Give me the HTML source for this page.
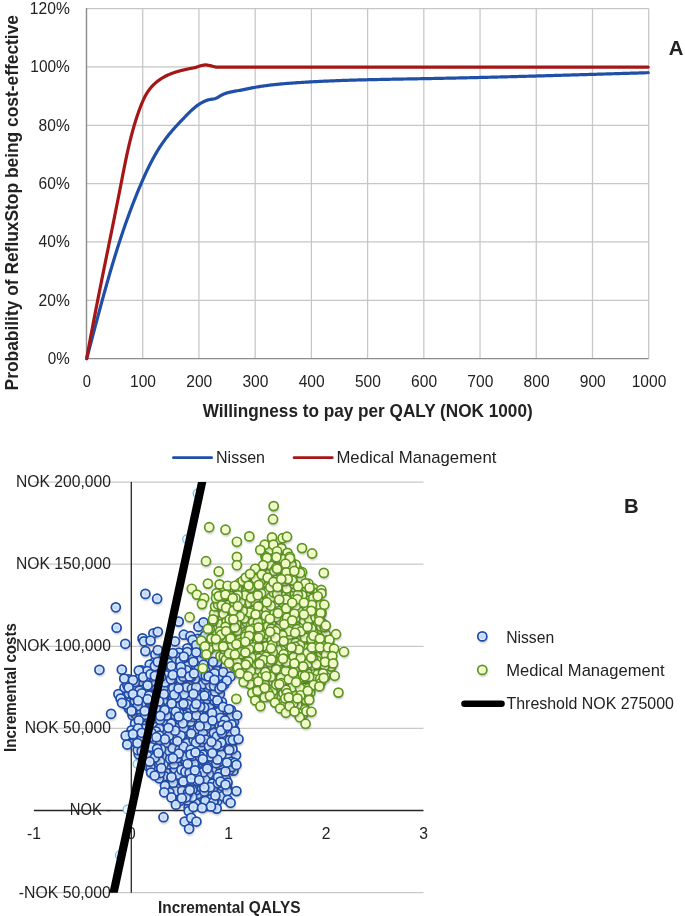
<!DOCTYPE html>
<html><head><meta charset="utf-8"><style>
html,body{margin:0;padding:0;background:#fff;}
svg{display:block;will-change:transform;}
text{font-family:"Liberation Sans", sans-serif;}
</style></head><body>
<svg width="685" height="916" viewBox="0 0 685 916">
<rect width="685" height="916" fill="#fff"/>
<g stroke="#c6c6c6" stroke-width="1.25"><line x1="86.50" y1="300.27" x2="648.70" y2="300.27"/><line x1="86.50" y1="241.93" x2="648.70" y2="241.93"/><line x1="86.50" y1="183.60" x2="648.70" y2="183.60"/><line x1="86.50" y1="125.26" x2="648.70" y2="125.26"/><line x1="86.50" y1="66.93" x2="648.70" y2="66.93"/><line x1="86.50" y1="8.60" x2="648.70" y2="8.60"/><line x1="142.72" y1="358.60" x2="142.72" y2="8.60"/><line x1="198.94" y1="358.60" x2="198.94" y2="8.60"/><line x1="255.16" y1="358.60" x2="255.16" y2="8.60"/><line x1="311.38" y1="358.60" x2="311.38" y2="8.60"/><line x1="367.60" y1="358.60" x2="367.60" y2="8.60"/><line x1="423.82" y1="358.60" x2="423.82" y2="8.60"/><line x1="480.04" y1="358.60" x2="480.04" y2="8.60"/><line x1="536.26" y1="358.60" x2="536.26" y2="8.60"/><line x1="592.48" y1="358.60" x2="592.48" y2="8.60"/><line x1="648.70" y1="358.60" x2="648.70" y2="8.60"/></g>
<g stroke="#8c8c8c" stroke-width="1.4"><line x1="86.50" y1="358.60" x2="86.50" y2="8.10"/><line x1="85.90" y1="358.60" x2="648.70" y2="358.60"/></g>
<path d="M86.70,358.60 L87.02,357.41 L87.33,356.23 L87.65,355.04 L87.96,353.86 L88.28,352.67 L88.59,351.48 L88.91,350.30 L89.22,349.11 L89.54,347.92 L89.85,346.74 L90.17,345.55 L90.48,344.36 L90.79,343.17 L91.11,341.99 L91.42,340.80 L91.73,339.61 L92.05,338.42 L92.36,337.24 L92.68,336.05 L92.99,334.86 L93.30,333.67 L93.62,332.49 L93.93,331.30 L94.25,330.11 L94.56,328.92 L94.87,327.73 L95.19,326.55 L95.50,325.36 L95.82,324.17 L96.13,322.98 L96.45,321.80 L96.77,320.61 L97.08,319.42 L97.40,318.23 L97.72,317.05 L98.03,315.86 L98.35,314.67 L98.67,313.49 L98.99,312.30 L99.30,311.11 L99.62,309.93 L99.94,308.74 L100.26,307.55 L100.58,306.37 L100.91,305.18 L101.23,303.99 L101.55,302.81 L101.87,301.62 L102.20,300.44 L102.52,299.25 L102.85,298.07 L103.17,296.88 L103.50,295.70 L103.82,294.51 L104.15,293.33 L104.48,292.15 L104.81,290.96 L105.14,289.78 L105.47,288.60 L105.80,287.41 L106.13,286.23 L106.47,285.05 L106.80,283.86 L107.14,282.68 L107.47,281.50 L107.81,280.32 L108.15,279.14 L108.48,277.96 L108.82,276.78 L109.17,275.60 L109.51,274.42 L109.85,273.24 L110.19,272.06 L110.54,270.88 L110.89,269.70 L111.23,268.52 L111.58,267.35 L111.93,266.17 L112.28,264.99 L112.63,263.82 L112.99,262.64 L113.34,261.46 L113.70,260.29 L114.05,259.11 L114.41,257.94 L114.77,256.77 L115.13,255.59 L115.50,254.42 L115.86,253.25 L116.23,252.08 L116.59,250.90 L116.96,249.73 L117.33,248.56 L117.70,247.39 L118.07,246.22 L118.45,245.05 L118.82,243.88 L119.20,242.72 L119.58,241.55 L119.96,240.38 L120.34,239.22 L120.73,238.05 L121.11,236.88 L121.50,235.72 L121.89,234.56 L122.28,233.39 L122.67,232.23 L123.06,231.07 L123.46,229.90 L123.86,228.74 L124.26,227.58 L124.66,226.42 L125.06,225.26 L125.46,224.10 L125.87,222.95 L126.28,221.79 L126.69,220.63 L127.10,219.48 L127.52,218.32 L127.93,217.17 L128.35,216.01 L128.77,214.86 L129.20,213.71 L129.62,212.55 L130.05,211.40 L130.48,210.25 L130.91,209.10 L131.34,207.95 L131.78,206.81 L132.21,205.66 L132.65,204.51 L133.10,203.37 L133.54,202.22 L133.99,201.08 L134.44,199.93 L134.89,198.79 L135.34,197.65 L135.80,196.51 L136.25,195.37 L136.71,194.23 L137.18,193.09 L137.64,191.95 L138.11,190.81 L138.58,189.68 L139.05,188.54 L139.53,187.41 L140.01,186.27 L140.49,185.14 L140.97,184.01 L141.45,182.88 L141.94,181.75 L142.43,180.62 L142.93,179.49 L143.42,178.37 L143.92,177.24 L144.43,176.12 L144.94,175.00 L145.45,173.88 L145.96,172.76 L146.48,171.65 L147.01,170.53 L147.54,169.42 L148.07,168.31 L148.61,167.21 L149.15,166.11 L149.70,165.01 L150.25,163.91 L150.81,162.82 L151.37,161.73 L151.94,160.64 L152.52,159.56 L153.10,158.48 L153.69,157.41 L154.29,156.34 L154.89,155.27 L155.50,154.21 L156.11,153.15 L156.73,152.10 L157.36,151.05 L158.00,150.00 L158.64,148.96 L159.29,147.93 L159.95,146.90 L160.62,145.88 L161.30,144.86 L161.98,143.85 L162.68,142.84 L163.38,141.84 L164.09,140.84 L164.81,139.85 L165.54,138.87 L166.27,137.90 L167.02,136.93 L167.78,135.96 L168.54,135.00 L169.32,134.05 L170.10,133.11 L170.89,132.16 L171.68,131.23 L172.49,130.30 L173.30,129.37 L174.11,128.45 L174.93,127.53 L175.76,126.62 L176.59,125.70 L177.43,124.80 L178.27,123.89 L179.12,122.99 L179.97,122.09 L180.82,121.19 L181.68,120.30 L182.53,119.41 L183.39,118.52 L184.26,117.63 L185.12,116.74 L185.98,115.85 L186.85,114.97 L187.72,114.08 L188.59,113.21 L189.47,112.34 L190.35,111.48 L191.24,110.63 L192.14,109.79 L193.06,108.97 L193.98,108.17 L194.91,107.38 L195.86,106.62 L196.83,105.87 L197.81,105.16 L198.81,104.46 L199.82,103.80 L200.86,103.16 L201.92,102.56 L203.00,101.99 L204.10,101.46 L205.22,100.97 L206.36,100.52 L207.51,100.13 L208.69,99.79 L209.88,99.52 L211.08,99.30 L212.29,99.14 L213.50,98.97 L214.69,98.74 L215.83,98.36 L216.93,97.85 L218.00,97.25 L219.06,96.59 L220.11,95.93 L221.18,95.31 L222.27,94.75 L223.38,94.24 L224.50,93.78 L225.64,93.37 L226.79,92.99 L227.95,92.65 L229.13,92.34 L230.31,92.06 L231.50,91.81 L232.70,91.57 L233.91,91.35 L235.11,91.14 L236.33,90.94 L237.54,90.74 L238.76,90.54 L239.97,90.34 L241.18,90.13 L242.39,89.90 L243.59,89.66 L244.79,89.42 L245.99,89.16 L247.19,88.91 L248.39,88.65 L249.59,88.40 L250.79,88.15 L251.99,87.91 L253.19,87.68 L254.40,87.46 L255.60,87.24 L256.81,87.03 L258.02,86.82 L259.23,86.62 L260.44,86.43 L261.65,86.24 L262.86,86.06 L264.07,85.89 L265.29,85.72 L266.50,85.55 L267.72,85.40 L268.93,85.24 L270.15,85.09 L271.37,84.95 L272.59,84.81 L273.81,84.68 L275.03,84.55 L276.25,84.42 L277.47,84.30 L278.70,84.18 L279.92,84.06 L281.14,83.95 L282.37,83.84 L283.59,83.73 L284.81,83.63 L286.04,83.53 L287.26,83.43 L288.49,83.34 L289.72,83.24 L290.94,83.15 L292.17,83.06 L293.39,82.98 L294.62,82.89 L295.85,82.80 L297.07,82.72 L298.30,82.64 L299.52,82.56 L300.75,82.48 L301.98,82.40 L303.20,82.32 L304.43,82.25 L305.66,82.17 L306.88,82.10 L308.11,82.03 L309.34,81.96 L310.56,81.89 L311.79,81.82 L313.02,81.75 L314.24,81.69 L315.47,81.62 L316.70,81.56 L317.92,81.50 L319.15,81.44 L320.38,81.38 L321.60,81.32 L322.83,81.26 L324.06,81.20 L325.28,81.15 L326.51,81.09 L327.74,81.04 L328.97,80.98 L330.19,80.93 L331.42,80.88 L332.65,80.83 L333.87,80.78 L335.10,80.73 L336.33,80.69 L337.56,80.64 L338.78,80.59 L340.01,80.55 L341.24,80.51 L342.47,80.46 L343.69,80.42 L344.92,80.38 L346.15,80.34 L347.38,80.30 L348.60,80.26 L349.83,80.22 L351.06,80.18 L352.29,80.14 L353.51,80.11 L354.74,80.07 L355.97,80.04 L357.20,80.00 L358.42,79.97 L359.65,79.94 L360.88,79.90 L362.11,79.87 L363.34,79.84 L364.56,79.81 L365.79,79.78 L367.02,79.75 L368.25,79.72 L369.47,79.69 L370.70,79.66 L371.93,79.63 L373.16,79.61 L374.39,79.58 L375.61,79.55 L376.84,79.53 L378.07,79.50 L379.30,79.48 L380.52,79.45 L381.75,79.43 L382.98,79.40 L384.21,79.38 L385.44,79.35 L386.66,79.33 L387.89,79.31 L389.12,79.28 L390.35,79.26 L391.58,79.24 L392.80,79.21 L394.03,79.19 L395.26,79.17 L396.49,79.15 L397.72,79.13 L398.95,79.11 L400.17,79.08 L401.40,79.06 L402.63,79.04 L403.86,79.02 L405.09,79.00 L406.31,78.98 L407.54,78.96 L408.77,78.94 L410.00,78.91 L411.23,78.89 L412.45,78.87 L413.68,78.85 L414.91,78.83 L416.14,78.81 L417.37,78.79 L418.59,78.76 L419.82,78.74 L421.05,78.72 L422.28,78.70 L423.51,78.68 L424.73,78.65 L425.96,78.63 L427.19,78.61 L428.42,78.59 L429.65,78.56 L430.88,78.54 L432.10,78.52 L433.33,78.49 L434.56,78.47 L435.79,78.44 L437.02,78.42 L438.24,78.40 L439.47,78.37 L440.70,78.35 L441.93,78.32 L443.16,78.30 L444.38,78.27 L445.61,78.25 L446.84,78.22 L448.07,78.20 L449.30,78.17 L450.52,78.14 L451.75,78.12 L452.98,78.09 L454.21,78.06 L455.44,78.04 L456.66,78.01 L457.89,77.98 L459.12,77.96 L460.35,77.93 L461.58,77.90 L462.80,77.87 L464.03,77.85 L465.26,77.82 L466.49,77.79 L467.72,77.76 L468.94,77.73 L470.17,77.71 L471.40,77.68 L472.63,77.65 L473.85,77.62 L475.08,77.59 L476.31,77.56 L477.54,77.53 L478.77,77.50 L479.99,77.47 L481.22,77.44 L482.45,77.41 L483.68,77.38 L484.91,77.35 L486.13,77.32 L487.36,77.29 L488.59,77.26 L489.82,77.23 L491.05,77.20 L492.27,77.17 L493.50,77.14 L494.73,77.11 L495.96,77.08 L497.19,77.05 L498.41,77.01 L499.64,76.98 L500.87,76.95 L502.10,76.92 L503.32,76.89 L504.55,76.86 L505.78,76.82 L507.01,76.79 L508.24,76.76 L509.46,76.73 L510.69,76.69 L511.92,76.66 L513.15,76.63 L514.38,76.60 L515.60,76.56 L516.83,76.53 L518.06,76.50 L519.29,76.46 L520.51,76.43 L521.74,76.40 L522.97,76.36 L524.20,76.33 L525.43,76.30 L526.65,76.26 L527.88,76.23 L529.11,76.20 L530.34,76.16 L531.57,76.13 L532.79,76.09 L534.02,76.06 L535.25,76.03 L536.48,75.99 L537.70,75.96 L538.93,75.92 L540.16,75.89 L541.39,75.85 L542.62,75.82 L543.84,75.78 L545.07,75.75 L546.30,75.71 L547.53,75.68 L548.75,75.64 L549.98,75.61 L551.21,75.57 L552.44,75.54 L553.67,75.50 L554.89,75.47 L556.12,75.43 L557.35,75.40 L558.58,75.36 L559.80,75.33 L561.03,75.29 L562.26,75.25 L563.49,75.22 L564.72,75.18 L565.94,75.15 L567.17,75.11 L568.40,75.08 L569.63,75.04 L570.85,75.00 L572.08,74.97 L573.31,74.93 L574.54,74.90 L575.77,74.86 L576.99,74.82 L578.22,74.79 L579.45,74.75 L580.68,74.71 L581.90,74.68 L583.13,74.64 L584.36,74.60 L585.59,74.57 L586.82,74.53 L588.04,74.50 L589.27,74.46 L590.50,74.42 L591.73,74.39 L592.95,74.35 L594.18,74.31 L595.41,74.28 L596.64,74.24 L597.86,74.20 L599.09,74.17 L600.32,74.13 L601.55,74.09 L602.78,74.06 L604.00,74.02 L605.23,73.98 L606.46,73.95 L607.69,73.91 L608.91,73.87 L610.14,73.84 L611.37,73.80 L612.60,73.76 L613.83,73.73 L615.05,73.69 L616.28,73.65 L617.51,73.61 L618.74,73.58 L619.96,73.54 L621.19,73.50 L622.42,73.47 L623.65,73.43 L624.87,73.39 L626.10,73.36 L627.33,73.32 L628.56,73.28 L629.78,73.25 L631.01,73.21 L632.24,73.17 L633.47,73.14 L634.70,73.10 L635.92,73.06 L637.15,73.03 L638.38,72.99 L639.61,72.95 L640.83,72.92 L642.06,72.88 L643.29,72.85 L644.52,72.81 L645.74,72.77 L646.97,72.74 L648.20,72.70" fill="none" stroke="#1f4fa6" stroke-width="3.2" stroke-linejoin="round" stroke-linecap="round"/>
<path d="M86.70,358.60 L86.80,358.06 L86.89,357.51 L86.99,356.97 L87.09,356.43 L87.18,355.89 L87.28,355.34 L87.38,354.80 L87.48,354.26 L87.57,353.72 L87.67,353.17 L87.77,352.63 L87.87,352.09 L87.97,351.55 L88.06,351.01 L88.16,350.46 L88.26,349.92 L88.36,349.38 L88.46,348.84 L88.56,348.29 L88.65,347.75 L88.75,347.21 L88.85,346.67 L88.95,346.13 L89.05,345.58 L89.15,345.04 L89.25,344.50 L89.35,343.96 L89.45,343.42 L89.55,342.88 L89.65,342.33 L89.75,341.79 L89.85,341.25 L89.95,340.71 L90.05,340.17 L90.15,339.62 L90.25,339.08 L90.35,338.54 L90.45,338.00 L90.55,337.46 L90.66,336.92 L90.76,336.38 L90.86,335.83 L90.96,335.29 L91.06,334.75 L91.16,334.21 L91.26,333.67 L91.36,333.13 L91.47,332.59 L91.57,332.04 L91.67,331.50 L91.77,330.96 L91.87,330.42 L91.98,329.88 L92.08,329.34 L92.18,328.80 L92.28,328.26 L92.39,327.71 L92.49,327.17 L92.59,326.63 L92.70,326.09 L92.80,325.55 L92.90,325.01 L93.00,324.47 L93.11,323.93 L93.21,323.39 L93.31,322.85 L93.42,322.30 L93.52,321.76 L93.63,321.22 L93.73,320.68 L93.83,320.14 L93.94,319.60 L94.04,319.06 L94.15,318.52 L94.25,317.98 L94.35,317.44 L94.46,316.90 L94.56,316.36 L94.67,315.82 L94.77,315.27 L94.88,314.73 L94.98,314.19 L95.09,313.65 L95.19,313.11 L95.30,312.57 L95.40,312.03 L95.51,311.49 L95.61,310.95 L95.72,310.41 L95.82,309.87 L95.93,309.33 L96.03,308.79 L96.14,308.25 L96.24,307.71 L96.35,307.17 L96.45,306.63 L96.56,306.09 L96.67,305.55 L96.77,305.01 L96.88,304.47 L96.98,303.93 L97.09,303.39 L97.20,302.84 L97.30,302.30 L97.41,301.76 L97.51,301.22 L97.62,300.68 L97.73,300.14 L97.83,299.60 L97.94,299.06 L98.05,298.52 L98.15,297.98 L98.26,297.44 L98.37,296.90 L98.47,296.36 L98.58,295.82 L98.69,295.28 L98.80,294.74 L98.90,294.20 L99.01,293.66 L99.12,293.12 L99.22,292.58 L99.33,292.04 L99.44,291.50 L99.55,290.96 L99.65,290.42 L99.76,289.88 L99.87,289.34 L99.98,288.80 L100.08,288.26 L100.19,287.72 L100.30,287.18 L100.41,286.64 L100.51,286.10 L100.62,285.56 L100.73,285.03 L100.84,284.49 L100.95,283.95 L101.05,283.41 L101.16,282.87 L101.27,282.33 L101.38,281.79 L101.49,281.25 L101.60,280.71 L101.70,280.17 L101.81,279.63 L101.92,279.09 L102.03,278.55 L102.14,278.01 L102.25,277.47 L102.35,276.93 L102.46,276.39 L102.57,275.85 L102.68,275.31 L102.79,274.77 L102.90,274.23 L103.01,273.69 L103.11,273.15 L103.22,272.61 L103.33,272.07 L103.44,271.53 L103.55,270.99 L103.66,270.45 L103.77,269.91 L103.88,269.37 L103.98,268.84 L104.09,268.30 L104.20,267.76 L104.31,267.22 L104.42,266.68 L104.53,266.14 L104.64,265.60 L104.75,265.06 L104.86,264.52 L104.97,263.98 L105.08,263.44 L105.18,262.90 L105.29,262.36 L105.40,261.82 L105.51,261.28 L105.62,260.74 L105.73,260.20 L105.84,259.66 L105.95,259.12 L106.06,258.58 L106.17,258.05 L106.28,257.51 L106.39,256.97 L106.50,256.43 L106.60,255.89 L106.71,255.35 L106.82,254.81 L106.93,254.27 L107.04,253.73 L107.15,253.19 L107.26,252.65 L107.37,252.11 L107.48,251.57 L107.59,251.03 L107.70,250.49 L107.81,249.95 L107.92,249.41 L108.03,248.87 L108.14,248.33 L108.25,247.80 L108.36,247.26 L108.46,246.72 L108.57,246.18 L108.68,245.64 L108.79,245.10 L108.90,244.56 L109.01,244.02 L109.12,243.48 L109.23,242.94 L109.34,242.40 L109.45,241.86 L109.56,241.32 L109.67,240.78 L109.78,240.24 L109.89,239.70 L110.00,239.16 L110.11,238.62 L110.22,238.09 L110.32,237.55 L110.43,237.01 L110.54,236.47 L110.65,235.93 L110.76,235.39 L110.87,234.85 L110.98,234.31 L111.09,233.77 L111.20,233.23 L111.31,232.69 L111.42,232.15 L111.53,231.61 L111.64,231.07 L111.75,230.53 L111.85,229.99 L111.96,229.45 L112.07,228.91 L112.18,228.37 L112.29,227.83 L112.40,227.29 L112.51,226.75 L112.62,226.22 L112.73,225.68 L112.84,225.14 L112.94,224.60 L113.05,224.06 L113.16,223.52 L113.27,222.98 L113.38,222.44 L113.49,221.90 L113.60,221.36 L113.71,220.82 L113.82,220.28 L113.92,219.74 L114.03,219.20 L114.14,218.66 L114.25,218.12 L114.36,217.58 L114.47,217.04 L114.58,216.50 L114.68,215.96 L114.79,215.42 L114.90,214.88 L115.01,214.34 L115.12,213.80 L115.23,213.26 L115.33,212.72 L115.44,212.18 L115.55,211.64 L115.66,211.10 L115.77,210.56 L115.87,210.02 L115.98,209.48 L116.09,208.94 L116.20,208.40 L116.31,207.86 L116.41,207.32 L116.52,206.78 L116.63,206.24 L116.74,205.70 L116.85,205.16 L116.95,204.62 L117.06,204.08 L117.17,203.54 L117.28,203.00 L117.38,202.46 L117.49,201.92 L117.60,201.38 L117.71,200.84 L117.81,200.30 L117.92,199.76 L118.03,199.22 L118.13,198.68 L118.24,198.14 L118.35,197.60 L118.45,197.06 L118.56,196.52 L118.67,195.98 L118.78,195.44 L118.88,194.90 L118.99,194.36 L119.10,193.82 L119.20,193.28 L119.31,192.74 L119.41,192.20 L119.52,191.66 L119.63,191.12 L119.73,190.58 L119.84,190.04 L119.95,189.50 L120.05,188.96 L120.16,188.42 L120.26,187.88 L120.37,187.34 L120.48,186.80 L120.58,186.25 L120.69,185.71 L120.79,185.17 L120.90,184.63 L121.00,184.09 L121.11,183.55 L121.21,183.01 L121.32,182.47 L121.42,181.93 L121.53,181.39 L121.63,180.85 L121.74,180.31 L121.84,179.77 L121.95,179.23 L122.05,178.69 L122.16,178.14 L122.27,177.60 L122.37,177.06 L122.48,176.52 L122.58,175.98 L122.69,175.44 L122.79,174.90 L122.90,174.36 L123.00,173.82 L123.11,173.28 L123.22,172.74 L123.32,172.20 L123.43,171.66 L123.53,171.12 L123.64,170.58 L123.75,170.04 L123.85,169.50 L123.96,168.96 L124.07,168.42 L124.18,167.87 L124.28,167.33 L124.39,166.79 L124.50,166.25 L124.61,165.71 L124.72,165.17 L124.83,164.63 L124.94,164.10 L125.05,163.56 L125.15,163.02 L125.27,162.48 L125.38,161.94 L125.49,161.40 L125.60,160.86 L125.71,160.32 L125.82,159.78 L125.93,159.24 L126.05,158.70 L126.16,158.16 L126.27,157.62 L126.39,157.08 L126.50,156.55 L126.62,156.01 L126.73,155.47 L126.85,154.93 L126.96,154.39 L127.08,153.85 L127.20,153.32 L127.31,152.78 L127.43,152.24 L127.55,151.70 L127.67,151.17 L127.79,150.63 L127.91,150.09 L128.03,149.55 L128.15,149.02 L128.27,148.48 L128.39,147.94 L128.52,147.41 L128.64,146.87 L128.76,146.33 L128.89,145.80 L129.01,145.26 L129.14,144.72 L129.27,144.19 L129.39,143.65 L129.52,143.12 L129.65,142.58 L129.78,142.05 L129.91,141.51 L130.04,140.98 L130.17,140.44 L130.30,139.91 L130.44,139.37 L130.57,138.84 L130.71,138.31 L130.84,137.77 L130.98,137.24 L131.11,136.71 L131.25,136.17 L131.39,135.64 L131.53,135.11 L131.67,134.57 L131.81,134.04 L131.95,133.51 L132.09,132.98 L132.24,132.44 L132.38,131.91 L132.53,131.38 L132.67,130.85 L132.82,130.32 L132.97,129.79 L133.12,129.26 L133.26,128.73 L133.42,128.20 L133.57,127.67 L133.72,127.14 L133.87,126.61 L134.03,126.08 L134.18,125.55 L134.34,125.02 L134.50,124.49 L134.66,123.96 L134.82,123.44 L134.98,122.91 L135.14,122.38 L135.30,121.85 L135.46,121.33 L135.63,120.80 L135.79,120.27 L135.96,119.75 L136.13,119.22 L136.30,118.70 L136.47,118.17 L136.64,117.64 L136.81,117.12 L136.99,116.59 L137.16,116.07 L137.34,115.55 L137.52,115.02 L137.69,114.50 L137.87,113.98 L138.06,113.45 L138.24,112.93 L138.42,112.41 L138.61,111.89 L138.79,111.36 L138.98,110.84 L139.17,110.32 L139.36,109.80 L139.55,109.28 L139.74,108.76 L139.94,108.24 L140.13,107.72 L140.33,107.20 L140.52,106.68 L140.72,106.16 L140.93,105.65 L141.13,105.13 L141.33,104.61 L141.54,104.10 L141.75,103.59 L141.96,103.07 L142.18,102.56 L142.40,102.05 L142.61,101.55 L142.84,101.04 L143.06,100.54 L143.29,100.03 L143.52,99.53 L143.76,99.04 L143.99,98.54 L144.23,98.05 L144.48,97.56 L144.73,97.07 L144.98,96.58 L145.23,96.10 L145.49,95.62 L145.75,95.14 L146.02,94.67 L146.29,94.19 L146.57,93.73 L146.85,93.26 L147.13,92.80 L147.42,92.34 L147.72,91.89 L148.01,91.44 L148.32,90.99 L148.63,90.55 L148.94,90.11 L149.26,89.68 L149.58,89.25 L149.91,88.82 L150.25,88.40 L150.59,87.98 L150.93,87.57 L151.28,87.16 L151.64,86.76 L152.00,86.36 L152.37,85.96 L152.74,85.57 L153.11,85.19 L153.49,84.81 L153.88,84.43 L154.27,84.06 L154.66,83.69 L155.06,83.33 L155.47,82.97 L155.87,82.61 L156.29,82.26 L156.70,81.92 L157.13,81.58 L157.55,81.24 L157.98,80.91 L158.42,80.59 L158.86,80.27 L159.30,79.95 L159.75,79.64 L160.20,79.33 L160.65,79.03 L161.11,78.73 L161.57,78.44 L162.04,78.15 L162.51,77.87 L162.99,77.59 L163.46,77.31 L163.95,77.04 L164.43,76.78 L164.92,76.52 L165.41,76.27 L165.91,76.02 L166.41,75.77 L166.91,75.53 L167.41,75.30 L167.92,75.06 L168.43,74.84 L168.94,74.61 L169.46,74.39 L169.97,74.18 L170.49,73.97 L171.02,73.76 L171.54,73.56 L172.07,73.36 L172.59,73.16 L173.12,72.97 L173.66,72.78 L174.19,72.60 L174.72,72.42 L175.26,72.24 L175.80,72.07 L176.34,71.90 L176.88,71.73 L177.42,71.56 L177.96,71.40 L178.50,71.25 L179.05,71.09 L179.59,70.94 L180.13,70.79 L180.68,70.65 L181.22,70.50 L181.77,70.36 L182.31,70.23 L182.86,70.09 L183.41,69.96 L183.95,69.83 L184.50,69.70 L185.04,69.58 L185.59,69.46 L186.13,69.34 L186.67,69.22 L187.21,69.10 L187.76,68.99 L188.30,68.88 L188.83,68.77 L189.37,68.66 L189.91,68.56 L190.44,68.45 L190.98,68.35 L191.51,68.25 L192.04,68.15 L192.57,68.06 L193.10,67.96 L193.62,67.87 L194.15,67.77 L194.67,67.68 L195.18,67.59 L195.70,67.50 C196.67,67.17 199.80,65.93 201.50,65.50 C203.20,65.07 204.43,64.88 205.90,64.90 C207.37,64.92 208.60,65.24 210.30,65.60 C212.00,65.96 214.15,66.81 216.10,67.05 C218.05,67.29 219.68,67.05 222.00,67.05 C224.32,67.05 227.00,67.05 230.00,67.05 C233.00,67.05 238.33,67.05 240.00,67.05 L648.2,67.05" fill="none" stroke="#a51616" stroke-width="3.2" stroke-linejoin="round" stroke-linecap="round"/>
<text x="69.80" y="364.10" font-size="16.70" text-anchor="end" textLength="22.0" lengthAdjust="spacingAndGlyphs" fill="#222">0%</text>
<text x="69.80" y="305.77" font-size="16.70" text-anchor="end" textLength="31.2" lengthAdjust="spacingAndGlyphs" fill="#222">20%</text>
<text x="69.80" y="247.43" font-size="16.70" text-anchor="end" textLength="31.2" lengthAdjust="spacingAndGlyphs" fill="#222">40%</text>
<text x="69.80" y="189.10" font-size="16.70" text-anchor="end" textLength="31.2" lengthAdjust="spacingAndGlyphs" fill="#222">60%</text>
<text x="69.80" y="130.76" font-size="16.70" text-anchor="end" textLength="31.2" lengthAdjust="spacingAndGlyphs" fill="#222">80%</text>
<text x="69.80" y="72.43" font-size="16.70" text-anchor="end" textLength="39.5" lengthAdjust="spacingAndGlyphs" fill="#222">100%</text>
<text x="69.80" y="14.10" font-size="16.70" text-anchor="end" textLength="40.0" lengthAdjust="spacingAndGlyphs" fill="#222">120%</text>
<text x="86.80" y="387.40" font-size="16.70" text-anchor="middle" textLength="8.2" lengthAdjust="spacingAndGlyphs" fill="#222">0</text>
<text x="143.02" y="387.40" font-size="16.70" text-anchor="middle" textLength="26.0" lengthAdjust="spacingAndGlyphs" fill="#222">100</text>
<text x="199.24" y="387.40" font-size="16.70" text-anchor="middle" textLength="26.0" lengthAdjust="spacingAndGlyphs" fill="#222">200</text>
<text x="255.46" y="387.40" font-size="16.70" text-anchor="middle" textLength="26.0" lengthAdjust="spacingAndGlyphs" fill="#222">300</text>
<text x="311.68" y="387.40" font-size="16.70" text-anchor="middle" textLength="26.0" lengthAdjust="spacingAndGlyphs" fill="#222">400</text>
<text x="367.90" y="387.40" font-size="16.70" text-anchor="middle" textLength="26.0" lengthAdjust="spacingAndGlyphs" fill="#222">500</text>
<text x="424.12" y="387.40" font-size="16.70" text-anchor="middle" textLength="26.0" lengthAdjust="spacingAndGlyphs" fill="#222">600</text>
<text x="480.34" y="387.40" font-size="16.70" text-anchor="middle" textLength="26.0" lengthAdjust="spacingAndGlyphs" fill="#222">700</text>
<text x="536.56" y="387.40" font-size="16.70" text-anchor="middle" textLength="26.0" lengthAdjust="spacingAndGlyphs" fill="#222">800</text>
<text x="592.78" y="387.40" font-size="16.70" text-anchor="middle" textLength="26.0" lengthAdjust="spacingAndGlyphs" fill="#222">900</text>
<text x="649.00" y="387.40" font-size="16.70" text-anchor="middle" textLength="34.6" lengthAdjust="spacingAndGlyphs" fill="#222">1000</text>
<text x="202.70" y="416.80" font-size="17.80" font-weight="bold" textLength="330.0" lengthAdjust="spacingAndGlyphs" fill="#222">Willingness to pay per QALY (NOK 1000)</text>
<g transform="translate(18.3,390.4) rotate(-90)"><text x="0.00" y="0.00" font-size="18.60" font-weight="bold" textLength="375.4" lengthAdjust="spacingAndGlyphs" fill="#222">Probability of RefluxStop being cost-effective</text></g>
<text x="668.80" y="55.20" font-size="20.30" font-weight="bold" fill="#222">A</text>
<line x1="173.4" y1="457.7" x2="211.7" y2="457.7" stroke="#1f4fa6" stroke-width="2.7" stroke-linecap="round"/>
<line x1="294.1" y1="457.7" x2="332.3" y2="457.7" stroke="#a51616" stroke-width="2.7" stroke-linecap="round"/>
<text x="216.00" y="463.30" font-size="16.40" textLength="49.0" lengthAdjust="spacingAndGlyphs" fill="#222">Nissen</text>
<text x="336.40" y="463.30" font-size="16.40" textLength="160.0" lengthAdjust="spacingAndGlyphs" fill="#222">Medical Management</text>
<g stroke="#c8c8c8" stroke-width="1.25"><line x1="33.90" y1="482.00" x2="423.50" y2="482.00"/><line x1="33.90" y1="564.14" x2="423.50" y2="564.14"/><line x1="33.90" y1="646.28" x2="423.50" y2="646.28"/><line x1="33.90" y1="728.42" x2="423.50" y2="728.42"/><line x1="33.90" y1="892.70" x2="423.50" y2="892.70"/></g>
<line x1="131.30" y1="482.00" x2="131.30" y2="892.70" stroke="#262626" stroke-width="1.3"/>
<line x1="33.90" y1="810.56" x2="423.50" y2="810.56" stroke="#262626" stroke-width="1.5"/>
<defs>
<radialGradient id="gb" cx="50%" cy="50%" r="50%">
 <stop offset="0" stop-color="#c0d6fa"/><stop offset="0.5" stop-color="#cadefb"/><stop offset="0.8" stop-color="#e6f2ff"/><stop offset="1" stop-color="#f8fcff"/>
</radialGradient>
<radialGradient id="gg" cx="50%" cy="50%" r="50%">
 <stop offset="0" stop-color="#eefab8"/><stop offset="0.5" stop-color="#f2fcc6"/><stop offset="0.85" stop-color="#fbfee8"/><stop offset="1" stop-color="#fefff6"/>
</radialGradient>
<radialGradient id="sh" cx="50%" cy="50%" r="50%">
 <stop offset="0" stop-color="#4a4050" stop-opacity="0.42"/><stop offset="0.6" stop-color="#4a4050" stop-opacity="0.22"/><stop offset="1" stop-color="#3c3c5a" stop-opacity="0"/>
</radialGradient>
<symbol id="mb" overflow="visible"><circle cx="0.6" cy="2.2" r="6.2" fill="url(#sh)"/><circle r="4.5" fill="url(#gb)" stroke="#1e4cab" stroke-width="1.75"/></symbol>
<symbol id="mg" overflow="visible"><circle cx="0.6" cy="2.2" r="6.2" fill="url(#sh)"/><circle r="4.55" fill="url(#gg)" stroke="#5c961c" stroke-width="1.7"/></symbol>
</defs>
<circle cx="197.5" cy="493.5" r="4.3" fill="#f0fafe" stroke="#70c4ea" stroke-width="1.3"/>
<circle cx="187.0" cy="539.2" r="4.3" fill="#f0fafe" stroke="#70c4ea" stroke-width="1.3"/>
<circle cx="137.5" cy="764.0" r="4.3" fill="#f0fafe" stroke="#70c4ea" stroke-width="1.3"/>
<circle cx="127.5" cy="809.5" r="4.3" fill="#f0fafe" stroke="#70c4ea" stroke-width="1.3"/>
<circle cx="119.8" cy="855.2" r="4.3" fill="#f0fafe" stroke="#70c4ea" stroke-width="1.3"/>
<circle cx="178.7" cy="621.6" r="4.3" fill="#f0fafe" stroke="#70c4ea" stroke-width="1.3"/>
<use href="#mb" x="190.1" y="691.8"/>
<use href="#mb" x="153.1" y="724.3"/>
<use href="#mb" x="155.3" y="654.5"/>
<use href="#mb" x="194.4" y="735.3"/>
<use href="#mb" x="205.5" y="687.0"/>
<use href="#mb" x="188.2" y="724.9"/>
<use href="#mb" x="139.8" y="746.5"/>
<use href="#mb" x="194.5" y="722.1"/>
<use href="#mb" x="227.4" y="743.4"/>
<use href="#mb" x="217.1" y="714.9"/>
<use href="#mb" x="195.0" y="778.0"/>
<use href="#mb" x="210.3" y="737.5"/>
<use href="#mb" x="153.4" y="744.1"/>
<use href="#mb" x="190.5" y="762.8"/>
<use href="#mb" x="186.4" y="737.4"/>
<use href="#mb" x="209.3" y="679.3"/>
<use href="#mb" x="175.1" y="702.2"/>
<use href="#mb" x="208.9" y="760.7"/>
<use href="#mb" x="179.0" y="652.6"/>
<use href="#mb" x="211.0" y="669.1"/>
<use href="#mb" x="174.0" y="785.9"/>
<use href="#mb" x="145.4" y="719.5"/>
<use href="#mb" x="197.7" y="682.2"/>
<use href="#mb" x="206.8" y="784.2"/>
<use href="#mb" x="174.1" y="657.4"/>
<use href="#mb" x="163.7" y="760.7"/>
<use href="#mb" x="132.5" y="715.3"/>
<use href="#mb" x="156.3" y="717.0"/>
<use href="#mb" x="180.2" y="727.6"/>
<use href="#mb" x="236.0" y="755.3"/>
<use href="#mb" x="230.7" y="727.6"/>
<use href="#mb" x="172.7" y="743.8"/>
<use href="#mb" x="193.1" y="669.8"/>
<use href="#mb" x="202.9" y="703.5"/>
<use href="#mb" x="156.7" y="698.4"/>
<use href="#mb" x="183.1" y="787.0"/>
<use href="#mb" x="191.3" y="727.1"/>
<use href="#mb" x="200.4" y="643.3"/>
<use href="#mb" x="202.1" y="676.3"/>
<use href="#mb" x="156.8" y="704.4"/>
<use href="#mb" x="168.7" y="711.5"/>
<use href="#mb" x="151.2" y="720.8"/>
<use href="#mb" x="169.7" y="759.7"/>
<use href="#mb" x="144.6" y="705.5"/>
<use href="#mb" x="161.1" y="689.6"/>
<use href="#mb" x="206.7" y="787.6"/>
<use href="#mb" x="205.2" y="646.5"/>
<use href="#mb" x="181.8" y="709.4"/>
<use href="#mb" x="193.5" y="729.7"/>
<use href="#mb" x="222.6" y="775.7"/>
<use href="#mb" x="181.2" y="742.0"/>
<use href="#mb" x="209.1" y="780.5"/>
<use href="#mb" x="200.6" y="763.1"/>
<use href="#mb" x="179.6" y="675.7"/>
<use href="#mb" x="172.1" y="774.3"/>
<use href="#mb" x="219.3" y="739.7"/>
<use href="#mb" x="169.8" y="740.0"/>
<use href="#mb" x="166.1" y="722.6"/>
<use href="#mb" x="218.9" y="793.2"/>
<use href="#mb" x="214.7" y="795.0"/>
<use href="#mb" x="170.5" y="671.5"/>
<use href="#mb" x="195.8" y="797.2"/>
<use href="#mb" x="154.9" y="761.4"/>
<use href="#mb" x="168.4" y="785.9"/>
<use href="#mb" x="213.1" y="746.3"/>
<use href="#mb" x="186.7" y="678.3"/>
<use href="#mb" x="187.9" y="734.2"/>
<use href="#mb" x="177.1" y="671.8"/>
<use href="#mb" x="166.7" y="755.4"/>
<use href="#mb" x="201.1" y="798.7"/>
<use href="#mb" x="177.2" y="780.3"/>
<use href="#mb" x="196.7" y="769.8"/>
<use href="#mb" x="176.2" y="754.2"/>
<use href="#mb" x="224.1" y="684.4"/>
<use href="#mb" x="193.0" y="805.2"/>
<use href="#mb" x="204.8" y="745.3"/>
<use href="#mb" x="206.8" y="713.3"/>
<use href="#mb" x="190.5" y="663.8"/>
<use href="#mb" x="204.6" y="692.0"/>
<use href="#mb" x="173.7" y="759.3"/>
<use href="#mb" x="217.3" y="684.3"/>
<use href="#mb" x="214.7" y="777.4"/>
<use href="#mb" x="164.1" y="779.9"/>
<use href="#mb" x="194.2" y="683.3"/>
<use href="#mb" x="210.0" y="749.8"/>
<use href="#mb" x="219.9" y="693.8"/>
<use href="#mb" x="219.6" y="708.8"/>
<use href="#mb" x="190.4" y="721.7"/>
<use href="#mb" x="221.4" y="729.3"/>
<use href="#mb" x="202.5" y="749.4"/>
<use href="#mb" x="210.5" y="709.9"/>
<use href="#mb" x="187.2" y="782.2"/>
<use href="#mb" x="214.6" y="727.6"/>
<use href="#mb" x="159.3" y="693.9"/>
<use href="#mb" x="203.3" y="725.9"/>
<use href="#mb" x="197.6" y="794.1"/>
<use href="#mb" x="170.2" y="660.2"/>
<use href="#mb" x="179.5" y="760.3"/>
<use href="#mb" x="161.5" y="668.0"/>
<use href="#mb" x="178.0" y="766.4"/>
<use href="#mb" x="209.3" y="706.0"/>
<use href="#mb" x="167.7" y="776.6"/>
<use href="#mb" x="150.1" y="691.7"/>
<use href="#mb" x="188.5" y="746.6"/>
<use href="#mb" x="176.4" y="720.5"/>
<use href="#mb" x="228.5" y="764.9"/>
<use href="#mb" x="191.6" y="710.2"/>
<use href="#mb" x="206.7" y="721.6"/>
<use href="#mb" x="200.2" y="692.1"/>
<use href="#mb" x="218.1" y="768.2"/>
<use href="#mb" x="201.9" y="713.7"/>
<use href="#mb" x="216.6" y="665.7"/>
<use href="#mb" x="180.6" y="699.1"/>
<use href="#mb" x="177.6" y="657.3"/>
<use href="#mb" x="149.9" y="704.1"/>
<use href="#mb" x="208.9" y="688.9"/>
<use href="#mb" x="164.9" y="751.0"/>
<use href="#mb" x="167.9" y="685.5"/>
<use href="#mb" x="177.3" y="747.0"/>
<use href="#mb" x="205.5" y="756.8"/>
<use href="#mb" x="150.9" y="712.3"/>
<use href="#mb" x="167.8" y="653.6"/>
<use href="#mb" x="190.7" y="784.1"/>
<use href="#mb" x="165.4" y="729.1"/>
<use href="#mb" x="153.1" y="754.8"/>
<use href="#mb" x="180.7" y="794.9"/>
<use href="#mb" x="199.8" y="735.3"/>
<use href="#mb" x="217.4" y="801.0"/>
<use href="#mb" x="184.3" y="663.5"/>
<use href="#mb" x="228.3" y="718.6"/>
<use href="#mb" x="196.4" y="790.0"/>
<use href="#mb" x="188.5" y="712.5"/>
<use href="#mb" x="165.8" y="771.6"/>
<use href="#mb" x="214.4" y="798.4"/>
<use href="#mb" x="204.0" y="667.6"/>
<use href="#mb" x="197.9" y="638.9"/>
<use href="#mb" x="161.3" y="661.5"/>
<use href="#mb" x="218.9" y="724.2"/>
<use href="#mb" x="202.5" y="766.6"/>
<use href="#mb" x="188.6" y="807.6"/>
<use href="#mb" x="208.8" y="731.9"/>
<use href="#mb" x="181.9" y="730.8"/>
<use href="#mb" x="157.6" y="676.6"/>
<use href="#mb" x="199.1" y="701.7"/>
<use href="#mb" x="179.3" y="785.0"/>
<use href="#mb" x="187.7" y="800.4"/>
<use href="#mb" x="227.6" y="724.0"/>
<use href="#mb" x="168.6" y="751.2"/>
<use href="#mb" x="227.1" y="787.4"/>
<use href="#mb" x="212.6" y="774.3"/>
<use href="#mb" x="163.2" y="706.1"/>
<use href="#mb" x="157.9" y="722.6"/>
<use href="#mb" x="177.1" y="771.8"/>
<use href="#mb" x="198.0" y="658.6"/>
<use href="#mb" x="141.8" y="724.4"/>
<use href="#mb" x="172.5" y="748.1"/>
<use href="#mb" x="213.8" y="732.8"/>
<use href="#mb" x="181.3" y="754.4"/>
<use href="#mb" x="159.3" y="683.5"/>
<use href="#mb" x="186.3" y="730.8"/>
<use href="#mb" x="162.1" y="756.4"/>
<use href="#mb" x="143.1" y="681.9"/>
<use href="#mb" x="135.1" y="723.7"/>
<use href="#mb" x="158.6" y="670.3"/>
<use href="#mb" x="165.6" y="689.1"/>
<use href="#mb" x="205.4" y="670.9"/>
<use href="#mb" x="170.3" y="717.8"/>
<use href="#mb" x="206.3" y="683.1"/>
<use href="#mb" x="161.5" y="744.9"/>
<use href="#mb" x="184.5" y="719.5"/>
<use href="#mb" x="176.1" y="681.1"/>
<use href="#mb" x="171.7" y="665.2"/>
<use href="#mb" x="193.6" y="760.3"/>
<use href="#mb" x="135.9" y="714.5"/>
<use href="#mb" x="210.8" y="792.0"/>
<use href="#mb" x="192.6" y="789.6"/>
<use href="#mb" x="207.2" y="699.1"/>
<use href="#mb" x="167.9" y="696.0"/>
<use href="#mb" x="138.7" y="754.2"/>
<use href="#mb" x="192.6" y="698.5"/>
<use href="#mb" x="174.5" y="705.5"/>
<use href="#mb" x="168.4" y="702.0"/>
<use href="#mb" x="182.6" y="687.2"/>
<use href="#mb" x="213.3" y="761.6"/>
<use href="#mb" x="173.3" y="726.9"/>
<use href="#mb" x="192.2" y="743.5"/>
<use href="#mb" x="189.8" y="740.7"/>
<use href="#mb" x="224.2" y="783.0"/>
<use href="#mb" x="199.4" y="759.9"/>
<use href="#mb" x="197.8" y="729.0"/>
<use href="#mb" x="206.6" y="640.6"/>
<use href="#mb" x="174.7" y="768.5"/>
<use href="#mb" x="189.0" y="700.7"/>
<use href="#mb" x="217.0" y="788.2"/>
<use href="#mb" x="217.3" y="748.8"/>
<use href="#mb" x="212.4" y="770.5"/>
<use href="#mb" x="193.1" y="716.9"/>
<use href="#mb" x="185.6" y="751.3"/>
<use href="#mb" x="153.7" y="662.8"/>
<use href="#mb" x="171.5" y="685.0"/>
<use href="#mb" x="173.0" y="698.1"/>
<use href="#mb" x="163.0" y="700.4"/>
<use href="#mb" x="155.6" y="685.5"/>
<use href="#mb" x="176.8" y="724.0"/>
<use href="#mb" x="168.1" y="764.3"/>
<use href="#mb" x="146.1" y="754.0"/>
<use href="#mb" x="201.9" y="680.5"/>
<use href="#mb" x="226.2" y="748.4"/>
<use href="#mb" x="172.3" y="734.4"/>
<use href="#mb" x="210.0" y="643.3"/>
<use href="#mb" x="189.2" y="789.1"/>
<use href="#mb" x="174.0" y="763.9"/>
<use href="#mb" x="175.0" y="714.7"/>
<use href="#mb" x="121.5" y="695.4"/>
<use href="#mb" x="201.0" y="695.4"/>
<use href="#mb" x="205.0" y="768.9"/>
<use href="#mb" x="164.4" y="776.0"/>
<use href="#mb" x="171.8" y="691.9"/>
<use href="#mb" x="187.4" y="682.7"/>
<use href="#mb" x="231.0" y="710.1"/>
<use href="#mb" x="158.7" y="754.3"/>
<use href="#mb" x="197.0" y="752.9"/>
<use href="#mb" x="163.9" y="713.7"/>
<use href="#mb" x="207.5" y="754.1"/>
<use href="#mb" x="161.6" y="680.9"/>
<use href="#mb" x="215.2" y="676.8"/>
<use href="#mb" x="217.0" y="670.9"/>
<use href="#mb" x="214.3" y="700.6"/>
<use href="#mb" x="204.0" y="805.9"/>
<use href="#mb" x="155.6" y="727.1"/>
<use href="#mb" x="180.1" y="719.9"/>
<use href="#mb" x="151.6" y="696.1"/>
<use href="#mb" x="150.2" y="759.0"/>
<use href="#mb" x="159.9" y="705.4"/>
<use href="#mb" x="132.4" y="738.6"/>
<use href="#mb" x="159.2" y="728.7"/>
<use href="#mb" x="194.2" y="674.6"/>
<use href="#mb" x="210.6" y="724.2"/>
<use href="#mb" x="195.0" y="711.2"/>
<use href="#mb" x="180.4" y="705.7"/>
<use href="#mb" x="185.5" y="766.1"/>
<use href="#mb" x="131.6" y="730.3"/>
<use href="#mb" x="151.4" y="767.9"/>
<use href="#mb" x="199.7" y="785.0"/>
<use href="#mb" x="166.6" y="715.6"/>
<use href="#mb" x="189.8" y="685.0"/>
<use href="#mb" x="183.8" y="727.9"/>
<use href="#mb" x="234.7" y="730.2"/>
<use href="#mb" x="137.7" y="750.0"/>
<use href="#mb" x="180.3" y="800.7"/>
<use href="#mb" x="173.6" y="739.1"/>
<use href="#mb" x="201.8" y="787.8"/>
<use href="#mb" x="185.6" y="760.6"/>
<use href="#mb" x="163.7" y="764.1"/>
<use href="#mb" x="221.9" y="764.3"/>
<use href="#mb" x="176.0" y="667.4"/>
<use href="#mb" x="178.9" y="695.3"/>
<use href="#mb" x="179.6" y="749.7"/>
<use href="#mb" x="184.1" y="714.9"/>
<use href="#mb" x="233.5" y="770.7"/>
<use href="#mb" x="210.3" y="756.5"/>
<use href="#mb" x="186.8" y="743.0"/>
<use href="#mb" x="205.2" y="735.7"/>
<use href="#mb" x="177.1" y="691.8"/>
<use href="#mb" x="159.9" y="719.8"/>
<use href="#mb" x="216.3" y="718.1"/>
<use href="#mb" x="210.4" y="696.0"/>
<use href="#mb" x="147.4" y="711.2"/>
<use href="#mb" x="156.8" y="712.7"/>
<use href="#mb" x="155.9" y="731.3"/>
<use href="#mb" x="165.3" y="675.2"/>
<use href="#mb" x="128.8" y="693.6"/>
<use href="#mb" x="215.0" y="739.8"/>
<use href="#mb" x="204.2" y="707.5"/>
<use href="#mb" x="158.1" y="765.7"/>
<use href="#mb" x="214.3" y="696.4"/>
<use href="#mb" x="195.9" y="665.7"/>
<use href="#mb" x="222.1" y="750.8"/>
<use href="#mb" x="173.8" y="661.5"/>
<use href="#mb" x="211.2" y="799.0"/>
<use href="#mb" x="234.0" y="721.8"/>
<use href="#mb" x="151.3" y="732.5"/>
<use href="#mb" x="195.4" y="653.4"/>
<use href="#mb" x="199.9" y="778.1"/>
<use href="#mb" x="192.8" y="658.2"/>
<use href="#mb" x="195.8" y="691.5"/>
<use href="#mb" x="221.9" y="702.1"/>
<use href="#mb" x="155.0" y="693.8"/>
<use href="#mb" x="188.7" y="811.1"/>
<use href="#mb" x="221.7" y="779.8"/>
<use href="#mb" x="165.0" y="682.2"/>
<use href="#mb" x="171.5" y="779.2"/>
<use href="#mb" x="152.2" y="740.5"/>
<use href="#mb" x="131.6" y="681.9"/>
<use href="#mb" x="170.2" y="730.8"/>
<use href="#mb" x="179.0" y="713.1"/>
<use href="#mb" x="195.8" y="803.3"/>
<use href="#mb" x="197.1" y="780.9"/>
<use href="#mb" x="151.1" y="686.2"/>
<use href="#mb" x="231.4" y="716.4"/>
<use href="#mb" x="221.8" y="789.6"/>
<use href="#mb" x="144.2" y="728.8"/>
<use href="#mb" x="165.6" y="742.7"/>
<use href="#mb" x="199.9" y="718.2"/>
<use href="#mb" x="157.4" y="747.5"/>
<use href="#mb" x="129.4" y="742.6"/>
<use href="#mb" x="217.9" y="702.4"/>
<use href="#mb" x="225.2" y="709.4"/>
<use href="#mb" x="149.8" y="750.5"/>
<use href="#mb" x="200.8" y="649.6"/>
<use href="#mb" x="198.6" y="669.1"/>
<use href="#mb" x="219.6" y="773.6"/>
<use href="#mb" x="144.7" y="700.1"/>
<use href="#mb" x="197.1" y="747.7"/>
<use href="#mb" x="181.8" y="780.9"/>
<use href="#mb" x="198.9" y="709.9"/>
<use href="#mb" x="159.5" y="739.9"/>
<use href="#mb" x="187.9" y="716.5"/>
<use href="#mb" x="147.9" y="684.8"/>
<use href="#mb" x="200.7" y="746.5"/>
<use href="#mb" x="184.2" y="694.3"/>
<use href="#mb" x="194.7" y="767.2"/>
<use href="#mb" x="218.8" y="712.0"/>
<use href="#mb" x="202.9" y="733.1"/>
<use href="#mb" x="154.7" y="672.9"/>
<use href="#mb" x="220.5" y="717.8"/>
<use href="#mb" x="180.3" y="684.6"/>
<use href="#mb" x="217.9" y="754.9"/>
<use href="#mb" x="128.5" y="735.3"/>
<use href="#mb" x="134.6" y="686.4"/>
<use href="#mb" x="145.6" y="747.9"/>
<use href="#mb" x="186.6" y="687.0"/>
<use href="#mb" x="216.9" y="736.4"/>
<use href="#mb" x="140.3" y="676.2"/>
<use href="#mb" x="202.1" y="742.0"/>
<use href="#mb" x="221.9" y="785.9"/>
<use href="#mb" x="178.9" y="774.7"/>
<use href="#mb" x="196.4" y="715.3"/>
<use href="#mb" x="153.4" y="681.3"/>
<use href="#mb" x="215.0" y="691.4"/>
<use href="#mb" x="219.9" y="761.5"/>
<use href="#mb" x="187.3" y="648.4"/>
<use href="#mb" x="171.2" y="723.7"/>
<use href="#mb" x="227.7" y="737.3"/>
<use href="#mb" x="206.3" y="636.6"/>
<use href="#mb" x="193.6" y="740.3"/>
<use href="#mb" x="181.4" y="769.8"/>
<use href="#mb" x="200.8" y="661.9"/>
<use href="#mb" x="187.6" y="704.2"/>
<use href="#mb" x="187.6" y="778.0"/>
<use href="#mb" x="159.3" y="735.7"/>
<use href="#mb" x="222.9" y="678.9"/>
<use href="#mb" x="208.9" y="773.8"/>
<use href="#mb" x="192.2" y="797.1"/>
<use href="#mb" x="124.5" y="687.7"/>
<use href="#mb" x="203.3" y="784.8"/>
<use href="#mb" x="225.0" y="720.3"/>
<use href="#mb" x="173.2" y="688.1"/>
<use href="#mb" x="194.0" y="763.7"/>
<use href="#mb" x="204.4" y="695.7"/>
<use href="#mb" x="176.5" y="733.9"/>
<use href="#mb" x="202.6" y="754.5"/>
<use href="#mb" x="150.8" y="676.7"/>
<use href="#mb" x="160.6" y="769.3"/>
<use href="#mb" x="195.9" y="742.7"/>
<use href="#mb" x="231.3" y="761.5"/>
<use href="#mb" x="187.6" y="768.8"/>
<use href="#mb" x="175.5" y="791.2"/>
<use href="#mb" x="159.1" y="778.3"/>
<use href="#mb" x="157.0" y="758.3"/>
<use href="#mb" x="128.6" y="679.4"/>
<use href="#mb" x="143.1" y="689.7"/>
<use href="#mb" x="153.4" y="701.2"/>
<use href="#mb" x="139.3" y="690.7"/>
<use href="#mb" x="202.9" y="684.1"/>
<use href="#mb" x="183.5" y="746.7"/>
<use href="#mb" x="205.2" y="779.7"/>
<use href="#mb" x="148.8" y="737.9"/>
<use href="#mb" x="154.0" y="770.6"/>
<use href="#mb" x="169.0" y="735.7"/>
<use href="#mb" x="222.6" y="725.2"/>
<use href="#mb" x="171.5" y="708.1"/>
<use href="#mb" x="208.8" y="716.0"/>
<use href="#mb" x="196.3" y="698.3"/>
<use href="#mb" x="205.4" y="739.5"/>
<use href="#mb" x="160.2" y="772.9"/>
<use href="#mb" x="202.3" y="639.0"/>
<use href="#mb" x="148.4" y="766.5"/>
<use href="#mb" x="163.9" y="694.1"/>
<use href="#mb" x="155.8" y="666.7"/>
<use href="#mb" x="192.8" y="755.8"/>
<use href="#mb" x="206.6" y="725.5"/>
<use href="#mb" x="201.5" y="658.5"/>
<use href="#mb" x="221.4" y="754.5"/>
<use href="#mb" x="122.3" y="700.0"/>
<use href="#mb" x="142.0" y="711.2"/>
<use href="#mb" x="170.9" y="679.3"/>
<use href="#mb" x="141.1" y="741.6"/>
<use href="#mb" x="141.5" y="703.8"/>
<use href="#mb" x="136.5" y="731.2"/>
<use href="#mb" x="180.8" y="735.6"/>
<use href="#mb" x="185.7" y="757.0"/>
<use href="#mb" x="141.2" y="716.6"/>
<use href="#mb" x="146.3" y="759.2"/>
<use href="#mb" x="134.7" y="700.8"/>
<use href="#mb" x="146.4" y="743.1"/>
<use href="#mb" x="164.7" y="710.1"/>
<use href="#mb" x="231.6" y="743.5"/>
<use href="#mb" x="232.5" y="749.1"/>
<use href="#mb" x="226.0" y="779.0"/>
<use href="#mb" x="150.9" y="747.2"/>
<use href="#mb" x="182.2" y="790.8"/>
<use href="#mb" x="229.3" y="770.2"/>
<use href="#mb" x="200.1" y="706.8"/>
<use href="#mb" x="188.0" y="792.9"/>
<use href="#mb" x="224.6" y="735.1"/>
<use href="#mb" x="209.0" y="746.0"/>
<use href="#mb" x="137.9" y="709.3"/>
<use href="#mb" x="185.4" y="771.7"/>
<use href="#mb" x="161.1" y="749.2"/>
<use href="#mb" x="205.2" y="800.8"/>
<use href="#mb" x="229.2" y="749.9"/>
<use href="#mb" x="205.3" y="674.5"/>
<use href="#mb" x="229.3" y="731.6"/>
<use href="#mb" x="141.1" y="670.3"/>
<use href="#mb" x="149.7" y="664.6"/>
<use href="#mb" x="176.3" y="697.6"/>
<use href="#mb" x="211.0" y="676.1"/>
<use href="#mb" x="180.8" y="679.0"/>
<use href="#mb" x="174.3" y="694.7"/>
<use href="#mb" x="183.3" y="676.7"/>
<use href="#mb" x="199.7" y="726.1"/>
<use href="#mb" x="191.9" y="688.7"/>
<use href="#mb" x="169.3" y="792.3"/>
<use href="#mb" x="180.9" y="664.7"/>
<use href="#mb" x="203.3" y="772.2"/>
<use href="#mb" x="219.9" y="746.2"/>
<use href="#mb" x="194.3" y="707.4"/>
<use href="#mb" x="231.6" y="724.3"/>
<use href="#mb" x="196.2" y="703.9"/>
<use href="#mb" x="229.7" y="740.2"/>
<use href="#mb" x="222.6" y="796.0"/>
<use href="#mb" x="187.2" y="666.1"/>
<use href="#mb" x="231.8" y="766.9"/>
<use href="#mb" x="196.2" y="687.2"/>
<use href="#mb" x="213.5" y="802.2"/>
<use href="#mb" x="212.4" y="783.7"/>
<use href="#mb" x="173.2" y="782.7"/>
<use href="#mb" x="151.2" y="672.5"/>
<use href="#mb" x="191.2" y="733.5"/>
<use href="#mb" x="189.6" y="772.8"/>
<use href="#mb" x="141.7" y="751.2"/>
<use href="#mb" x="171.7" y="703.6"/>
<use href="#mb" x="224.8" y="729.0"/>
<use href="#mb" x="178.6" y="688.3"/>
<use href="#mb" x="177.4" y="741.0"/>
<use href="#mb" x="168.6" y="663.2"/>
<use href="#mb" x="137.7" y="705.8"/>
<use href="#mb" x="149.7" y="755.7"/>
<use href="#mb" x="182.1" y="671.6"/>
<use href="#mb" x="183.5" y="703.8"/>
<use href="#mb" x="175.8" y="711.5"/>
<use href="#mb" x="190.7" y="749.5"/>
<use href="#mb" x="204.4" y="791.6"/>
<use href="#mb" x="148.7" y="700.3"/>
<use href="#mb" x="142.0" y="737.2"/>
<use href="#mb" x="199.9" y="756.4"/>
<use href="#mb" x="177.1" y="758.1"/>
<use href="#mb" x="155.9" y="707.8"/>
<use href="#mb" x="202.8" y="759.1"/>
<use href="#mb" x="227.2" y="791.1"/>
<use href="#mb" x="203.6" y="653.2"/>
<use href="#mb" x="199.5" y="674.0"/>
<use href="#mb" x="164.9" y="739.2"/>
<use href="#mb" x="204.1" y="717.9"/>
<use href="#mb" x="127.3" y="685.1"/>
<use href="#mb" x="210.0" y="685.6"/>
<use href="#mb" x="193.4" y="693.9"/>
<use href="#mb" x="218.8" y="676.1"/>
<use href="#mb" x="222.0" y="732.9"/>
<use href="#mb" x="145.0" y="714.8"/>
<use href="#mb" x="175.0" y="730.7"/>
<use href="#mb" x="180.2" y="661.2"/>
<use href="#mb" x="227.6" y="782.5"/>
<use href="#mb" x="212.1" y="713.2"/>
<use href="#mb" x="129.1" y="708.7"/>
<use href="#mb" x="221.3" y="742.5"/>
<use href="#mb" x="210.1" y="787.2"/>
<use href="#mb" x="161.1" y="676.8"/>
<use href="#mb" x="182.8" y="723.3"/>
<use href="#mb" x="160.0" y="761.3"/>
<use href="#mb" x="216.3" y="763.2"/>
<use href="#mb" x="132.3" y="711.1"/>
<use href="#mb" x="165.0" y="785.8"/>
<use href="#mb" x="147.2" y="671.1"/>
<use href="#mb" x="212.5" y="720.6"/>
<use href="#mb" x="195.0" y="678.7"/>
<use href="#mb" x="200.2" y="739.1"/>
<use href="#mb" x="214.0" y="685.8"/>
<use href="#mb" x="235.0" y="739.6"/>
<use href="#mb" x="186.1" y="797.3"/>
<use href="#mb" x="191.0" y="677.2"/>
<use href="#mb" x="187.2" y="652.0"/>
<use href="#mb" x="219.4" y="688.8"/>
<use href="#mb" x="205.9" y="679.5"/>
<use href="#mb" x="178.7" y="716.6"/>
<use href="#mb" x="207.8" y="767.0"/>
<use href="#mb" x="133.0" y="694.8"/>
<use href="#mb" x="186.5" y="670.0"/>
<use href="#mb" x="217.9" y="783.2"/>
<use href="#mb" x="216.8" y="745.0"/>
<use href="#mb" x="211.4" y="741.8"/>
<use href="#mb" x="160.3" y="715.9"/>
<use href="#mb" x="196.6" y="774.3"/>
<use href="#mb" x="234.4" y="762.8"/>
<use href="#mb" x="159.0" y="701.4"/>
<use href="#mb" x="168.4" y="727.8"/>
<use href="#mb" x="145.6" y="677.5"/>
<use href="#mb" x="134.9" y="682.0"/>
<use href="#mb" x="218.0" y="777.0"/>
<use href="#mb" x="145.4" y="593.9"/>
<use href="#mb" x="157.1" y="598.7"/>
<use href="#mb" x="115.8" y="607.3"/>
<use href="#mb" x="116.6" y="627.7"/>
<use href="#mb" x="125.3" y="643.8"/>
<use href="#mb" x="99.4" y="669.8"/>
<use href="#mb" x="121.8" y="669.5"/>
<use href="#mb" x="138.8" y="670.5"/>
<use href="#mb" x="142.5" y="638.4"/>
<use href="#mb" x="143.9" y="641.3"/>
<use href="#mb" x="153.4" y="633.3"/>
<use href="#mb" x="150.5" y="640.6"/>
<use href="#mb" x="145.4" y="651.1"/>
<use href="#mb" x="157.8" y="631.8"/>
<use href="#mb" x="124.2" y="678.5"/>
<use href="#mb" x="133.0" y="680.0"/>
<use href="#mb" x="143.2" y="677.1"/>
<use href="#mb" x="150.5" y="674.2"/>
<use href="#mb" x="154.9" y="666.1"/>
<use href="#mb" x="157.8" y="650.1"/>
<use href="#mb" x="157.8" y="661.8"/>
<use href="#mb" x="178.7" y="621.6"/>
<use href="#mb" x="183.8" y="634.7"/>
<use href="#mb" x="190.4" y="636.2"/>
<use href="#mb" x="192.6" y="639.9"/>
<use href="#mb" x="196.2" y="645.0"/>
<use href="#mb" x="196.2" y="652.3"/>
<use href="#mb" x="198.4" y="626.7"/>
<use href="#mb" x="203.5" y="622.3"/>
<use href="#mb" x="205.0" y="635.5"/>
<use href="#mb" x="208.6" y="650.1"/>
<use href="#mb" x="175.0" y="641.3"/>
<use href="#mb" x="172.8" y="653.0"/>
<use href="#mb" x="183.8" y="656.6"/>
<use href="#mb" x="193.3" y="661.8"/>
<use href="#mb" x="203.5" y="664.7"/>
<use href="#mb" x="171.4" y="666.1"/>
<use href="#mb" x="180.9" y="666.9"/>
<use href="#mb" x="172.8" y="674.9"/>
<use href="#mb" x="181.6" y="672.7"/>
<use href="#mb" x="189.6" y="676.4"/>
<use href="#mb" x="194.0" y="673.4"/>
<use href="#mb" x="205.7" y="675.6"/>
<use href="#mb" x="217.4" y="661.8"/>
<use href="#mb" x="213.0" y="661.8"/>
<use href="#mb" x="223.2" y="672.0"/>
<use href="#mb" x="214.5" y="673.4"/>
<use href="#mb" x="230.5" y="676.4"/>
<use href="#mb" x="208.6" y="676.4"/>
<use href="#mb" x="147.6" y="685.3"/>
<use href="#mb" x="128.6" y="687.5"/>
<use href="#mb" x="118.4" y="694.1"/>
<use href="#mb" x="120.6" y="698.5"/>
<use href="#mb" x="133.0" y="694.1"/>
<use href="#mb" x="141.8" y="693.4"/>
<use href="#mb" x="149.1" y="695.5"/>
<use href="#mb" x="138.1" y="700.7"/>
<use href="#mb" x="125.7" y="704.3"/>
<use href="#mb" x="122.0" y="702.8"/>
<use href="#mb" x="131.5" y="710.9"/>
<use href="#mb" x="144.7" y="710.9"/>
<use href="#mb" x="147.6" y="699.2"/>
<use href="#mb" x="111.1" y="713.8"/>
<use href="#mb" x="138.8" y="720.4"/>
<use href="#mb" x="138.1" y="728.4"/>
<use href="#mb" x="125.7" y="735.7"/>
<use href="#mb" x="133.0" y="734.2"/>
<use href="#mb" x="127.2" y="744.5"/>
<use href="#mb" x="137.4" y="743.0"/>
<use href="#mb" x="141.8" y="732.8"/>
<use href="#mb" x="147.6" y="756.1"/>
<use href="#mb" x="150.5" y="766.4"/>
<use href="#mb" x="156.4" y="737.2"/>
<use href="#mb" x="157.1" y="748.8"/>
<use href="#mb" x="154.9" y="757.6"/>
<use href="#mb" x="154.9" y="675.8"/>
<use href="#mb" x="156.4" y="689.0"/>
<use href="#mb" x="237.1" y="715.3"/>
<use href="#mb" x="234.9" y="731.3"/>
<use href="#mb" x="236.4" y="764.9"/>
<use href="#mb" x="151.1" y="772.6"/>
<use href="#mb" x="154.7" y="775.5"/>
<use href="#mb" x="161.3" y="768.2"/>
<use href="#mb" x="164.2" y="792.3"/>
<use href="#mb" x="171.5" y="797.4"/>
<use href="#mb" x="175.9" y="804.7"/>
<use href="#mb" x="171.5" y="777.0"/>
<use href="#mb" x="183.2" y="781.4"/>
<use href="#mb" x="189.8" y="790.1"/>
<use href="#mb" x="187.6" y="763.9"/>
<use href="#mb" x="170.1" y="758.8"/>
<use href="#mb" x="158.4" y="752.9"/>
<use href="#mb" x="178.8" y="753.6"/>
<use href="#mb" x="190.5" y="754.4"/>
<use href="#mb" x="194.9" y="770.4"/>
<use href="#mb" x="193.4" y="806.9"/>
<use href="#mb" x="163.5" y="817.2"/>
<use href="#mb" x="184.7" y="821.5"/>
<use href="#mb" x="191.2" y="817.9"/>
<use href="#mb" x="189.1" y="828.8"/>
<use href="#mb" x="196.4" y="821.5"/>
<use href="#mb" x="181.8" y="798.2"/>
<use href="#mb" x="149.6" y="761.7"/>
<use href="#mb" x="236.4" y="791.1"/>
<use href="#mb" x="227.7" y="799.9"/>
<use href="#mb" x="230.6" y="802.8"/>
<use href="#mb" x="216.7" y="808.6"/>
<use href="#mb" x="210.9" y="806.4"/>
<use href="#mb" x="202.1" y="807.9"/>
<use href="#mb" x="215.3" y="795.5"/>
<use href="#mb" x="204.3" y="787.4"/>
<use href="#mb" x="220.4" y="781.6"/>
<use href="#mb" x="225.5" y="784.5"/>
<use href="#mb" x="225.5" y="771.4"/>
<use href="#mb" x="226.9" y="762.6"/>
<use href="#mb" x="217.4" y="759.7"/>
<use href="#mb" x="207.2" y="768.5"/>
<use href="#mb" x="212.3" y="753.1"/>
<use href="#mb" x="232.8" y="740.0"/>
<use href="#mb" x="191.2" y="778.7"/>
<use href="#mb" x="199.2" y="780.1"/>
<use href="#mb" x="172.9" y="758.2"/>
<use href="#mb" x="195.5" y="752.4"/>
<use href="#mb" x="226.8" y="680.7"/>
<use href="#mb" x="221.7" y="686.5"/>
<use href="#mb" x="214.4" y="679.9"/>
<use href="#mb" x="217.3" y="700.4"/>
<use href="#mb" x="223.1" y="706.9"/>
<use href="#mb" x="229.0" y="709.1"/>
<use href="#mb" x="220.9" y="730.3"/>
<use href="#mb" x="238.5" y="739.1"/>
<use href="#mb" x="227.5" y="725.9"/>
<use href="#mg" x="286.2" y="636.1"/>
<use href="#mg" x="302.1" y="572.2"/>
<use href="#mg" x="257.1" y="586.8"/>
<use href="#mg" x="253.6" y="606.3"/>
<use href="#mg" x="239.4" y="633.4"/>
<use href="#mg" x="314.9" y="621.2"/>
<use href="#mg" x="245.2" y="628.4"/>
<use href="#mg" x="280.3" y="630.0"/>
<use href="#mg" x="241.2" y="623.7"/>
<use href="#mg" x="226.4" y="601.2"/>
<use href="#mg" x="272.7" y="635.0"/>
<use href="#mg" x="263.1" y="643.7"/>
<use href="#mg" x="261.6" y="596.6"/>
<use href="#mg" x="277.1" y="548.2"/>
<use href="#mg" x="292.7" y="625.4"/>
<use href="#mg" x="273.4" y="554.9"/>
<use href="#mg" x="229.0" y="624.4"/>
<use href="#mg" x="304.3" y="606.1"/>
<use href="#mg" x="265.2" y="572.1"/>
<use href="#mg" x="277.6" y="665.6"/>
<use href="#mg" x="265.2" y="597.3"/>
<use href="#mg" x="295.8" y="613.4"/>
<use href="#mg" x="228.5" y="609.7"/>
<use href="#mg" x="262.7" y="650.2"/>
<use href="#mg" x="261.8" y="609.4"/>
<use href="#mg" x="296.8" y="568.2"/>
<use href="#mg" x="291.6" y="615.4"/>
<use href="#mg" x="271.6" y="609.4"/>
<use href="#mg" x="255.5" y="590.6"/>
<use href="#mg" x="306.4" y="669.5"/>
<use href="#mg" x="288.4" y="603.7"/>
<use href="#mg" x="221.4" y="641.8"/>
<use href="#mg" x="305.5" y="644.1"/>
<use href="#mg" x="297.4" y="691.8"/>
<use href="#mg" x="329.5" y="654.8"/>
<use href="#mg" x="299.4" y="638.3"/>
<use href="#mg" x="280.2" y="603.6"/>
<use href="#mg" x="294.3" y="694.6"/>
<use href="#mg" x="264.0" y="631.1"/>
<use href="#mg" x="292.6" y="630.0"/>
<use href="#mg" x="296.7" y="659.3"/>
<use href="#mg" x="310.6" y="646.7"/>
<use href="#mg" x="277.9" y="554.2"/>
<use href="#mg" x="308.5" y="583.7"/>
<use href="#mg" x="246.6" y="622.3"/>
<use href="#mg" x="303.4" y="664.1"/>
<use href="#mg" x="285.3" y="612.8"/>
<use href="#mg" x="241.0" y="592.5"/>
<use href="#mg" x="252.0" y="616.3"/>
<use href="#mg" x="299.0" y="625.0"/>
<use href="#mg" x="242.5" y="586.8"/>
<use href="#mg" x="317.7" y="646.0"/>
<use href="#mg" x="279.8" y="639.3"/>
<use href="#mg" x="292.9" y="637.2"/>
<use href="#mg" x="314.1" y="674.3"/>
<use href="#mg" x="276.3" y="674.4"/>
<use href="#mg" x="271.8" y="684.5"/>
<use href="#mg" x="265.0" y="589.6"/>
<use href="#mg" x="233.0" y="637.9"/>
<use href="#mg" x="257.3" y="632.0"/>
<use href="#mg" x="290.5" y="647.4"/>
<use href="#mg" x="274.9" y="656.9"/>
<use href="#mg" x="232.1" y="605.8"/>
<use href="#mg" x="253.1" y="678.3"/>
<use href="#mg" x="232.6" y="634.0"/>
<use href="#mg" x="261.8" y="614.7"/>
<use href="#mg" x="278.7" y="645.1"/>
<use href="#mg" x="283.2" y="588.3"/>
<use href="#mg" x="249.1" y="594.1"/>
<use href="#mg" x="306.6" y="631.6"/>
<use href="#mg" x="326.4" y="650.5"/>
<use href="#mg" x="296.8" y="655.5"/>
<use href="#mg" x="301.0" y="578.2"/>
<use href="#mg" x="311.3" y="642.4"/>
<use href="#mg" x="236.8" y="641.1"/>
<use href="#mg" x="284.4" y="686.3"/>
<use href="#mg" x="298.3" y="649.7"/>
<use href="#mg" x="325.5" y="676.7"/>
<use href="#mg" x="288.6" y="684.5"/>
<use href="#mg" x="240.8" y="646.3"/>
<use href="#mg" x="272.8" y="580.6"/>
<use href="#mg" x="285.2" y="644.9"/>
<use href="#mg" x="269.2" y="614.8"/>
<use href="#mg" x="247.1" y="655.4"/>
<use href="#mg" x="280.6" y="594.1"/>
<use href="#mg" x="264.4" y="653.5"/>
<use href="#mg" x="244.2" y="618.5"/>
<use href="#mg" x="223.2" y="638.9"/>
<use href="#mg" x="313.7" y="609.4"/>
<use href="#mg" x="278.7" y="608.9"/>
<use href="#mg" x="294.6" y="669.0"/>
<use href="#mg" x="260.7" y="602.7"/>
<use href="#mg" x="261.4" y="578.2"/>
<use href="#mg" x="263.8" y="626.3"/>
<use href="#mg" x="290.2" y="679.0"/>
<use href="#mg" x="235.5" y="618.3"/>
<use href="#mg" x="260.7" y="573.0"/>
<use href="#mg" x="303.3" y="625.6"/>
<use href="#mg" x="270.5" y="559.3"/>
<use href="#mg" x="279.8" y="688.8"/>
<use href="#mg" x="228.3" y="648.9"/>
<use href="#mg" x="322.6" y="632.1"/>
<use href="#mg" x="265.7" y="562.7"/>
<use href="#mg" x="274.6" y="596.3"/>
<use href="#mg" x="270.3" y="565.3"/>
<use href="#mg" x="295.4" y="707.5"/>
<use href="#mg" x="304.1" y="682.0"/>
<use href="#mg" x="235.0" y="593.0"/>
<use href="#mg" x="274.5" y="627.3"/>
<use href="#mg" x="218.3" y="614.1"/>
<use href="#mg" x="257.6" y="650.6"/>
<use href="#mg" x="263.5" y="622.1"/>
<use href="#mg" x="299.7" y="699.7"/>
<use href="#mg" x="279.9" y="583.2"/>
<use href="#mg" x="290.4" y="668.1"/>
<use href="#mg" x="237.7" y="603.7"/>
<use href="#mg" x="227.5" y="616.4"/>
<use href="#mg" x="284.4" y="619.9"/>
<use href="#mg" x="285.8" y="595.5"/>
<use href="#mg" x="251.5" y="581.9"/>
<use href="#mg" x="248.0" y="584.4"/>
<use href="#mg" x="287.0" y="569.9"/>
<use href="#mg" x="247.1" y="646.2"/>
<use href="#mg" x="266.0" y="639.3"/>
<use href="#mg" x="251.0" y="625.4"/>
<use href="#mg" x="223.9" y="632.3"/>
<use href="#mg" x="300.9" y="617.3"/>
<use href="#mg" x="293.5" y="651.1"/>
<use href="#mg" x="290.3" y="572.0"/>
<use href="#mg" x="310.0" y="613.5"/>
<use href="#mg" x="269.2" y="549.9"/>
<use href="#mg" x="259.0" y="680.9"/>
<use href="#mg" x="255.5" y="582.3"/>
<use href="#mg" x="254.4" y="636.3"/>
<use href="#mg" x="278.0" y="634.5"/>
<use href="#mg" x="251.9" y="652.5"/>
<use href="#mg" x="246.5" y="608.2"/>
<use href="#mg" x="289.9" y="592.4"/>
<use href="#mg" x="290.4" y="662.4"/>
<use href="#mg" x="287.3" y="653.3"/>
<use href="#mg" x="271.8" y="671.4"/>
<use href="#mg" x="272.0" y="665.8"/>
<use href="#mg" x="247.0" y="591.2"/>
<use href="#mg" x="290.6" y="640.3"/>
<use href="#mg" x="294.6" y="594.2"/>
<use href="#mg" x="275.5" y="602.7"/>
<use href="#mg" x="307.9" y="635.7"/>
<use href="#mg" x="222.6" y="619.4"/>
<use href="#mg" x="236.4" y="626.6"/>
<use href="#mg" x="261.1" y="619.4"/>
<use href="#mg" x="273.4" y="619.8"/>
<use href="#mg" x="281.4" y="650.2"/>
<use href="#mg" x="264.4" y="605.4"/>
<use href="#mg" x="253.7" y="610.4"/>
<use href="#mg" x="291.2" y="582.4"/>
<use href="#mg" x="298.7" y="673.5"/>
<use href="#mg" x="295.7" y="642.7"/>
<use href="#mg" x="235.5" y="656.2"/>
<use href="#mg" x="254.7" y="597.6"/>
<use href="#mg" x="250.3" y="644.1"/>
<use href="#mg" x="220.4" y="656.1"/>
<use href="#mg" x="289.4" y="577.5"/>
<use href="#mg" x="279.3" y="696.2"/>
<use href="#mg" x="316.8" y="650.1"/>
<use href="#mg" x="279.0" y="655.2"/>
<use href="#mg" x="331.2" y="666.6"/>
<use href="#mg" x="310.2" y="604.0"/>
<use href="#mg" x="240.2" y="638.9"/>
<use href="#mg" x="249.7" y="665.8"/>
<use href="#mg" x="237.7" y="648.1"/>
<use href="#mg" x="279.7" y="559.6"/>
<use href="#mg" x="286.9" y="676.9"/>
<use href="#mg" x="244.2" y="599.1"/>
<use href="#mg" x="295.5" y="685.8"/>
<use href="#mg" x="312.9" y="593.4"/>
<use href="#mg" x="282.0" y="664.8"/>
<use href="#mg" x="266.7" y="583.0"/>
<use href="#mg" x="237.0" y="630.8"/>
<use href="#mg" x="300.8" y="683.6"/>
<use href="#mg" x="288.4" y="696.7"/>
<use href="#mg" x="305.9" y="593.5"/>
<use href="#mg" x="259.0" y="569.0"/>
<use href="#mg" x="321.3" y="665.7"/>
<use href="#mg" x="307.3" y="628.1"/>
<use href="#mg" x="266.5" y="610.1"/>
<use href="#mg" x="255.5" y="617.8"/>
<use href="#mg" x="281.6" y="570.6"/>
<use href="#mg" x="253.2" y="622.2"/>
<use href="#mg" x="223.6" y="595.1"/>
<use href="#mg" x="317.9" y="674.0"/>
<use href="#mg" x="253.7" y="628.5"/>
<use href="#mg" x="280.0" y="625.5"/>
<use href="#mg" x="325.7" y="645.6"/>
<use href="#mg" x="329.1" y="642.9"/>
<use href="#mg" x="281.3" y="614.4"/>
<use href="#mg" x="318.4" y="656.5"/>
<use href="#mg" x="280.5" y="620.5"/>
<use href="#mg" x="300.8" y="606.4"/>
<use href="#mg" x="228.2" y="605.0"/>
<use href="#mg" x="298.6" y="667.1"/>
<use href="#mg" x="318.3" y="630.2"/>
<use href="#mg" x="295.2" y="662.2"/>
<use href="#mg" x="247.3" y="602.7"/>
<use href="#mg" x="246.8" y="633.4"/>
<use href="#mg" x="283.5" y="701.5"/>
<use href="#mg" x="265.8" y="615.7"/>
<use href="#mg" x="273.0" y="695.6"/>
<use href="#mg" x="220.4" y="624.2"/>
<use href="#mg" x="230.2" y="592.6"/>
<use href="#mg" x="289.4" y="624.9"/>
<use href="#mg" x="260.6" y="581.5"/>
<use href="#mg" x="304.1" y="687.8"/>
<use href="#mg" x="303.9" y="620.2"/>
<use href="#mg" x="301.6" y="710.4"/>
<use href="#mg" x="306.1" y="612.4"/>
<use href="#mg" x="252.3" y="663.3"/>
<use href="#mg" x="255.5" y="602.3"/>
<use href="#mg" x="225.0" y="608.6"/>
<use href="#mg" x="267.5" y="592.3"/>
<use href="#mg" x="303.2" y="590.0"/>
<use href="#mg" x="257.4" y="641.7"/>
<use href="#mg" x="271.4" y="622.5"/>
<use href="#mg" x="256.2" y="674.5"/>
<use href="#mg" x="257.9" y="622.3"/>
<use href="#mg" x="281.7" y="672.8"/>
<use href="#mg" x="305.7" y="677.8"/>
<use href="#mg" x="289.8" y="634.7"/>
<use href="#mg" x="310.4" y="692.5"/>
<use href="#mg" x="325.7" y="634.3"/>
<use href="#mg" x="314.4" y="613.8"/>
<use href="#mg" x="227.4" y="645.3"/>
<use href="#mg" x="318.8" y="610.7"/>
<use href="#mg" x="322.6" y="623.4"/>
<use href="#mg" x="324.7" y="659.9"/>
<use href="#mg" x="266.8" y="678.5"/>
<use href="#mg" x="241.6" y="606.4"/>
<use href="#mg" x="269.4" y="680.7"/>
<use href="#mg" x="268.1" y="626.2"/>
<use href="#mg" x="283.8" y="603.8"/>
<use href="#mg" x="288.1" y="659.2"/>
<use href="#mg" x="269.2" y="658.2"/>
<use href="#mg" x="276.7" y="680.0"/>
<use href="#mg" x="232.9" y="587.3"/>
<use href="#mg" x="294.3" y="587.4"/>
<use href="#mg" x="310.2" y="632.4"/>
<use href="#mg" x="261.1" y="593.2"/>
<use href="#mg" x="274.4" y="613.0"/>
<use href="#mg" x="258.6" y="653.9"/>
<use href="#mg" x="304.9" y="648.1"/>
<use href="#mg" x="231.6" y="657.3"/>
<use href="#mg" x="308.7" y="688.1"/>
<use href="#mg" x="301.3" y="704.1"/>
<use href="#mg" x="212.5" y="646.9"/>
<use href="#mg" x="274.2" y="575.1"/>
<use href="#mg" x="313.7" y="679.1"/>
<use href="#mg" x="262.6" y="567.4"/>
<use href="#mg" x="283.3" y="693.3"/>
<use href="#mg" x="317.8" y="623.4"/>
<use href="#mg" x="277.3" y="649.4"/>
<use href="#mg" x="268.8" y="642.3"/>
<use href="#mg" x="321.0" y="626.5"/>
<use href="#mg" x="239.8" y="583.0"/>
<use href="#mg" x="250.0" y="630.2"/>
<use href="#mg" x="254.8" y="695.1"/>
<use href="#mg" x="307.4" y="673.3"/>
<use href="#mg" x="271.1" y="597.3"/>
<use href="#mg" x="281.4" y="548.1"/>
<use href="#mg" x="275.8" y="588.7"/>
<use href="#mg" x="270.7" y="605.7"/>
<use href="#mg" x="288.9" y="631.2"/>
<use href="#mg" x="294.8" y="609.9"/>
<use href="#mg" x="283.6" y="654.2"/>
<use href="#mg" x="264.7" y="684.2"/>
<use href="#mg" x="296.4" y="601.8"/>
<use href="#mg" x="293.8" y="656.9"/>
<use href="#mg" x="262.7" y="690.2"/>
<use href="#mg" x="265.5" y="556.5"/>
<use href="#mg" x="263.3" y="637.4"/>
<use href="#mg" x="271.2" y="628.7"/>
<use href="#mg" x="279.3" y="661.2"/>
<use href="#mg" x="281.0" y="677.8"/>
<use href="#mg" x="220.6" y="597.2"/>
<use href="#mg" x="299.7" y="678.0"/>
<use href="#mg" x="276.6" y="641.3"/>
<use href="#mg" x="277.9" y="576.0"/>
<use href="#mg" x="252.7" y="668.1"/>
<use href="#mg" x="272.7" y="660.0"/>
<use href="#mg" x="260.2" y="694.9"/>
<use href="#mg" x="223.8" y="656.6"/>
<use href="#mg" x="313.9" y="644.8"/>
<use href="#mg" x="290.4" y="611.5"/>
<use href="#mg" x="286.0" y="599.4"/>
<use href="#mg" x="272.7" y="691.1"/>
<use href="#mg" x="297.4" y="704.6"/>
<use href="#mg" x="324.5" y="627.1"/>
<use href="#mg" x="307.7" y="657.4"/>
<use href="#mg" x="286.8" y="588.5"/>
<use href="#mg" x="258.7" y="669.5"/>
<use href="#mg" x="309.0" y="618.9"/>
<use href="#mg" x="249.5" y="612.5"/>
<use href="#mg" x="242.8" y="611.1"/>
<use href="#mg" x="276.2" y="684.5"/>
<use href="#mg" x="240.8" y="601.7"/>
<use href="#mg" x="233.5" y="649.5"/>
<use href="#mg" x="250.8" y="670.9"/>
<use href="#mg" x="237.2" y="588.8"/>
<use href="#mg" x="282.3" y="635.1"/>
<use href="#mg" x="233.4" y="666.0"/>
<use href="#mg" x="253.6" y="647.2"/>
<use href="#mg" x="276.2" y="617.3"/>
<use href="#mg" x="221.4" y="608.7"/>
<use href="#mg" x="225.9" y="659.6"/>
<use href="#mg" x="284.6" y="565.2"/>
<use href="#mg" x="308.7" y="698.2"/>
<use href="#mg" x="266.0" y="646.5"/>
<use href="#mg" x="266.8" y="602.2"/>
<use href="#mg" x="328.3" y="661.8"/>
<use href="#mg" x="274.3" y="570.9"/>
<use href="#mg" x="266.9" y="634.2"/>
<use href="#mg" x="242.6" y="581.0"/>
<use href="#mg" x="256.5" y="663.8"/>
<use href="#mg" x="240.4" y="663.9"/>
<use href="#mg" x="242.0" y="668.8"/>
<use href="#mg" x="308.1" y="663.4"/>
<use href="#mg" x="307.5" y="597.0"/>
<use href="#mg" x="273.6" y="592.5"/>
<use href="#mg" x="270.9" y="676.7"/>
<use href="#mg" x="262.0" y="655.9"/>
<use href="#mg" x="293.3" y="575.1"/>
<use href="#mg" x="275.5" y="631.2"/>
<use href="#mg" x="232.3" y="628.1"/>
<use href="#mg" x="214.1" y="613.7"/>
<use href="#mg" x="308.2" y="600.6"/>
<use href="#mg" x="237.2" y="607.8"/>
<use href="#mg" x="215.1" y="606.4"/>
<use href="#mg" x="271.8" y="639.9"/>
<use href="#mg" x="231.3" y="646.4"/>
<use href="#mg" x="232.8" y="609.7"/>
<use href="#mg" x="214.5" y="633.8"/>
<use href="#mg" x="314.6" y="637.8"/>
<use href="#mg" x="305.2" y="709.2"/>
<use href="#mg" x="317.6" y="664.0"/>
<use href="#mg" x="326.7" y="640.3"/>
<use href="#mg" x="257.0" y="574.0"/>
<use href="#mg" x="316.0" y="642.0"/>
<use href="#mg" x="276.1" y="582.5"/>
<use href="#mg" x="270.3" y="587.3"/>
<use href="#mg" x="255.3" y="657.3"/>
<use href="#mg" x="317.8" y="601.8"/>
<use href="#mg" x="232.8" y="613.8"/>
<use href="#mg" x="269.0" y="653.0"/>
<use href="#mg" x="234.3" y="602.6"/>
<use href="#mg" x="293.3" y="703.5"/>
<use href="#mg" x="291.8" y="687.4"/>
<use href="#mg" x="302.7" y="674.4"/>
<use href="#mg" x="245.5" y="595.2"/>
<use href="#mg" x="291.6" y="673.1"/>
<use href="#mg" x="321.2" y="654.5"/>
<use href="#mg" x="224.3" y="649.2"/>
<use href="#mg" x="324.7" y="665.8"/>
<use href="#mg" x="289.6" y="707.8"/>
<use href="#mg" x="313.5" y="632.9"/>
<use href="#mg" x="302.7" y="600.5"/>
<use href="#mg" x="302.8" y="714.8"/>
<use href="#mg" x="322.9" y="673.4"/>
<use href="#mg" x="321.6" y="613.1"/>
<use href="#mg" x="245.3" y="636.7"/>
<use href="#mg" x="272.4" y="644.6"/>
<use href="#mg" x="240.7" y="654.3"/>
<use href="#mg" x="277.2" y="593.9"/>
<use href="#mg" x="223.5" y="614.0"/>
<use href="#mg" x="300.0" y="645.2"/>
<use href="#mg" x="237.1" y="662.1"/>
<use href="#mg" x="295.6" y="618.1"/>
<use href="#mg" x="294.2" y="584.1"/>
<use href="#mg" x="279.2" y="599.6"/>
<use href="#mg" x="250.6" y="587.9"/>
<use href="#mg" x="287.5" y="552.9"/>
<use href="#mg" x="296.8" y="629.2"/>
<use href="#mg" x="302.3" y="694.2"/>
<use href="#mg" x="283.1" y="559.2"/>
<use href="#mg" x="319.4" y="637.9"/>
<use href="#mg" x="276.0" y="669.1"/>
<use href="#mg" x="218.6" y="638.0"/>
<use href="#mg" x="311.3" y="628.5"/>
<use href="#mg" x="259.0" y="658.2"/>
<use href="#mg" x="209.8" y="629.0"/>
<use href="#mg" x="249.0" y="636.0"/>
<use href="#mg" x="254.2" y="688.9"/>
<use href="#mg" x="283.6" y="641.1"/>
<use href="#mg" x="226.6" y="621.6"/>
<use href="#mg" x="281.4" y="683.1"/>
<use href="#mg" x="284.8" y="574.2"/>
<use href="#mg" x="323.6" y="641.7"/>
<use href="#mg" x="315.4" y="617.3"/>
<use href="#mg" x="218.1" y="604.5"/>
<use href="#mg" x="295.7" y="564.7"/>
<use href="#mg" x="216.7" y="645.9"/>
<use href="#mg" x="251.2" y="657.2"/>
<use href="#mg" x="238.3" y="672.4"/>
<use href="#mg" x="319.4" y="616.3"/>
<use href="#mg" x="275.4" y="637.7"/>
<use href="#mg" x="299.0" y="587.9"/>
<use href="#mg" x="295.1" y="646.6"/>
<use href="#mg" x="255.5" y="578.5"/>
<use href="#mg" x="260.2" y="634.7"/>
<use href="#mg" x="302.3" y="653.3"/>
<use href="#mg" x="309.2" y="676.9"/>
<use href="#mg" x="304.9" y="637.5"/>
<use href="#mg" x="320.2" y="679.0"/>
<use href="#mg" x="208.6" y="649.3"/>
<use href="#mg" x="258.5" y="627.4"/>
<use href="#mg" x="262.6" y="675.7"/>
<use href="#mg" x="263.3" y="664.7"/>
<use href="#mg" x="286.2" y="608.4"/>
<use href="#mg" x="228.9" y="653.5"/>
<use href="#mg" x="284.6" y="581.1"/>
<use href="#mg" x="241.6" y="650.4"/>
<use href="#mg" x="249.1" y="649.3"/>
<use href="#mg" x="319.3" y="605.0"/>
<use href="#mg" x="285.8" y="689.6"/>
<use href="#mg" x="322.8" y="650.1"/>
<use href="#mg" x="286.6" y="665.6"/>
<use href="#mg" x="316.6" y="660.5"/>
<use href="#mg" x="251.1" y="597.8"/>
<use href="#mg" x="276.3" y="567.5"/>
<use href="#mg" x="265.2" y="672.0"/>
<use href="#mg" x="258.8" y="647.4"/>
<use href="#mg" x="229.6" y="619.5"/>
<use href="#mg" x="236.7" y="667.7"/>
<use href="#mg" x="305.7" y="699.8"/>
<use href="#mg" x="300.0" y="688.1"/>
<use href="#mg" x="268.2" y="692.6"/>
<use href="#mg" x="320.6" y="683.2"/>
<use href="#mg" x="213.4" y="620.9"/>
<use href="#mg" x="287.0" y="617.8"/>
<use href="#mg" x="300.9" y="631.4"/>
<use href="#mg" x="225.4" y="626.9"/>
<use href="#mg" x="313.2" y="658.9"/>
<use href="#mg" x="211.4" y="638.6"/>
<use href="#mg" x="322.4" y="645.8"/>
<use href="#mg" x="309.9" y="651.1"/>
<use href="#mg" x="283.8" y="658.6"/>
<use href="#mg" x="313.4" y="588.5"/>
<use href="#mg" x="260.1" y="662.0"/>
<use href="#mg" x="284.2" y="624.2"/>
<use href="#mg" x="220.0" y="631.5"/>
<use href="#mg" x="272.9" y="652.5"/>
<use href="#mg" x="216.5" y="593.2"/>
<use href="#mg" x="289.8" y="556.8"/>
<use href="#mg" x="240.4" y="642.9"/>
<use href="#mg" x="270.0" y="631.8"/>
<use href="#mg" x="216.0" y="598.3"/>
<use href="#mg" x="237.7" y="595.2"/>
<use href="#mg" x="258.1" y="606.4"/>
<use href="#mg" x="300.2" y="611.8"/>
<use href="#mg" x="311.3" y="638.7"/>
<use href="#mg" x="257.8" y="595.2"/>
<use href="#mg" x="257.9" y="684.9"/>
<use href="#mg" x="258.7" y="637.8"/>
<use href="#mg" x="290.6" y="561.4"/>
<use href="#mg" x="278.0" y="613.2"/>
<use href="#mg" x="246.7" y="681.7"/>
<use href="#mg" x="313.7" y="685.0"/>
<use href="#mg" x="307.2" y="653.2"/>
<use href="#mg" x="299.0" y="661.7"/>
<use href="#mg" x="245.3" y="641.8"/>
<use href="#mg" x="306.1" y="587.5"/>
<use href="#mg" x="295.4" y="598.4"/>
<use href="#mg" x="266.0" y="656.7"/>
<use href="#mg" x="302.2" y="595.3"/>
<use href="#mg" x="268.9" y="696.1"/>
<use href="#mg" x="285.8" y="670.9"/>
<use href="#mg" x="255.6" y="614.4"/>
<use href="#mg" x="235.5" y="598.3"/>
<use href="#mg" x="291.6" y="565.1"/>
<use href="#mg" x="300.8" y="658.0"/>
<use href="#mg" x="236.5" y="623.2"/>
<use href="#mg" x="269.9" y="618.8"/>
<use href="#mg" x="313.3" y="598.3"/>
<use href="#mg" x="248.3" y="661.4"/>
<use href="#mg" x="318.0" y="592.5"/>
<use href="#mg" x="325.8" y="654.6"/>
<use href="#mg" x="271.1" y="648.3"/>
<use href="#mg" x="269.5" y="662.1"/>
<use href="#mg" x="245.4" y="652.4"/>
<use href="#mg" x="297.9" y="594.8"/>
<use href="#mg" x="286.4" y="662.1"/>
<use href="#mg" x="307.4" y="608.4"/>
<use href="#mg" x="264.5" y="697.2"/>
<use href="#mg" x="284.6" y="705.3"/>
<use href="#mg" x="295.9" y="605.8"/>
<use href="#mg" x="287.0" y="693.2"/>
<use href="#mg" x="263.4" y="659.9"/>
<use href="#mg" x="221.1" y="634.7"/>
<use href="#mg" x="239.8" y="616.3"/>
<use href="#mg" x="249.7" y="684.0"/>
<use href="#mg" x="303.4" y="667.5"/>
<use href="#mg" x="285.3" y="698.5"/>
<use href="#mg" x="330.9" y="659.5"/>
<use href="#mg" x="207.9" y="583.6"/>
<use href="#mg" x="219.6" y="584.4"/>
<use href="#mg" x="227.6" y="585.8"/>
<use href="#mg" x="234.9" y="585.8"/>
<use href="#mg" x="191.8" y="588.8"/>
<use href="#mg" x="196.9" y="594.6"/>
<use href="#mg" x="204.2" y="598.2"/>
<use href="#mg" x="202.0" y="604.1"/>
<use href="#mg" x="218.8" y="596.1"/>
<use href="#mg" x="225.4" y="594.6"/>
<use href="#mg" x="232.7" y="598.2"/>
<use href="#mg" x="221.8" y="605.5"/>
<use href="#mg" x="226.1" y="607.7"/>
<use href="#mg" x="233.4" y="610.7"/>
<use href="#mg" x="237.8" y="606.3"/>
<use href="#mg" x="189.6" y="617.2"/>
<use href="#mg" x="213.0" y="619.4"/>
<use href="#mg" x="207.9" y="628.9"/>
<use href="#mg" x="226.1" y="631.1"/>
<use href="#mg" x="234.9" y="627.4"/>
<use href="#mg" x="233.4" y="619.4"/>
<use href="#mg" x="201.3" y="640.6"/>
<use href="#mg" x="215.9" y="639.1"/>
<use href="#mg" x="205.0" y="646.4"/>
<use href="#mg" x="223.2" y="646.4"/>
<use href="#mg" x="230.5" y="638.4"/>
<use href="#mg" x="236.4" y="644.2"/>
<use href="#mg" x="206.4" y="654.5"/>
<use href="#mg" x="229.1" y="663.2"/>
<use href="#mg" x="234.9" y="654.5"/>
<use href="#mg" x="202.8" y="668.3"/>
<use href="#mg" x="237.8" y="667.6"/>
<use href="#mg" x="273.7" y="506.1"/>
<use href="#mg" x="273.0" y="519.2"/>
<use href="#mg" x="209.2" y="527.2"/>
<use href="#mg" x="225.5" y="529.7"/>
<use href="#mg" x="249.3" y="536.4"/>
<use href="#mg" x="236.9" y="541.8"/>
<use href="#mg" x="264.7" y="544.7"/>
<use href="#mg" x="272.0" y="537.4"/>
<use href="#mg" x="273.4" y="544.7"/>
<use href="#mg" x="260.3" y="549.9"/>
<use href="#mg" x="277.1" y="551.3"/>
<use href="#mg" x="236.9" y="556.9"/>
<use href="#mg" x="206.0" y="561.2"/>
<use href="#mg" x="236.9" y="565.2"/>
<use href="#mg" x="266.9" y="557.9"/>
<use href="#mg" x="263.2" y="565.2"/>
<use href="#mg" x="276.4" y="557.2"/>
<use href="#mg" x="277.1" y="568.8"/>
<use href="#mg" x="218.7" y="571.5"/>
<use href="#mg" x="255.2" y="568.8"/>
<use href="#mg" x="245.7" y="577.6"/>
<use href="#mg" x="261.8" y="574.7"/>
<use href="#mg" x="250.1" y="573.9"/>
<use href="#mg" x="248.6" y="585.6"/>
<use href="#mg" x="258.8" y="584.9"/>
<use href="#mg" x="267.6" y="577.6"/>
<use href="#mg" x="273.4" y="582.0"/>
<use href="#mg" x="282.6" y="538.2"/>
<use href="#mg" x="287.0" y="536.7"/>
<use href="#mg" x="302.0" y="548.1"/>
<use href="#mg" x="312.1" y="553.5"/>
<use href="#mg" x="289.9" y="558.3"/>
<use href="#mg" x="285.5" y="563.7"/>
<use href="#mg" x="286.3" y="572.5"/>
<use href="#mg" x="300.1" y="572.9"/>
<use href="#mg" x="294.3" y="571.0"/>
<use href="#mg" x="323.8" y="572.9"/>
<use href="#mg" x="292.1" y="580.5"/>
<use href="#mg" x="287.7" y="579.1"/>
<use href="#mg" x="281.2" y="579.1"/>
<use href="#mg" x="305.3" y="583.4"/>
<use href="#mg" x="298.0" y="586.4"/>
<use href="#mg" x="309.6" y="587.8"/>
<use href="#mg" x="321.3" y="590.0"/>
<use href="#mg" x="277.5" y="587.1"/>
<use href="#mg" x="321.4" y="593.4"/>
<use href="#mg" x="317.7" y="596.3"/>
<use href="#mg" x="297.3" y="599.2"/>
<use href="#mg" x="324.3" y="604.7"/>
<use href="#mg" x="311.9" y="605.0"/>
<use href="#mg" x="303.9" y="602.8"/>
<use href="#mg" x="292.2" y="602.8"/>
<use href="#mg" x="311.2" y="610.9"/>
<use href="#mg" x="320.7" y="613.1"/>
<use href="#mg" x="303.9" y="614.5"/>
<use href="#mg" x="294.4" y="613.8"/>
<use href="#mg" x="319.2" y="621.1"/>
<use href="#mg" x="325.8" y="625.5"/>
<use href="#mg" x="292.2" y="620.4"/>
<use href="#mg" x="307.5" y="626.9"/>
<use href="#mg" x="313.4" y="635.7"/>
<use href="#mg" x="336.0" y="634.2"/>
<use href="#mg" x="329.4" y="639.8"/>
<use href="#mg" x="319.9" y="638.6"/>
<use href="#mg" x="295.1" y="632.8"/>
<use href="#mg" x="311.9" y="647.4"/>
<use href="#mg" x="319.9" y="647.4"/>
<use href="#mg" x="328.0" y="647.4"/>
<use href="#mg" x="334.1" y="648.8"/>
<use href="#mg" x="344.0" y="651.8"/>
<use href="#mg" x="298.8" y="649.6"/>
<use href="#mg" x="291.5" y="647.4"/>
<use href="#mg" x="332.3" y="656.1"/>
<use href="#mg" x="325.0" y="662.0"/>
<use href="#mg" x="333.1" y="663.4"/>
<use href="#mg" x="316.3" y="664.2"/>
<use href="#mg" x="311.2" y="657.6"/>
<use href="#mg" x="303.1" y="666.4"/>
<use href="#mg" x="294.4" y="663.4"/>
<use href="#mg" x="236.3" y="698.9"/>
<use href="#mg" x="239.9" y="673.4"/>
<use href="#mg" x="243.6" y="682.1"/>
<use href="#mg" x="248.0" y="676.3"/>
<use href="#mg" x="245.8" y="664.6"/>
<use href="#mg" x="252.3" y="693.1"/>
<use href="#mg" x="255.3" y="700.4"/>
<use href="#mg" x="260.4" y="706.2"/>
<use href="#mg" x="257.4" y="690.9"/>
<use href="#mg" x="259.6" y="663.9"/>
<use href="#mg" x="258.2" y="681.4"/>
<use href="#mg" x="266.2" y="676.3"/>
<use href="#mg" x="264.7" y="688.0"/>
<use href="#mg" x="269.9" y="696.0"/>
<use href="#mg" x="275.0" y="702.6"/>
<use href="#mg" x="280.1" y="708.4"/>
<use href="#mg" x="285.9" y="712.8"/>
<use href="#mg" x="289.6" y="706.2"/>
<use href="#mg" x="288.8" y="697.4"/>
<use href="#mg" x="279.3" y="684.3"/>
<use href="#mg" x="283.0" y="658.8"/>
<use href="#mg" x="288.8" y="679.2"/>
<use href="#mg" x="297.6" y="712.8"/>
<use href="#mg" x="299.8" y="717.2"/>
<use href="#mg" x="305.6" y="723.7"/>
<use href="#mg" x="300.5" y="695.3"/>
<use href="#mg" x="304.9" y="676.3"/>
<use href="#mg" x="307.8" y="690.9"/>
<use href="#mg" x="306.4" y="711.3"/>
<use href="#mg" x="271.3" y="659.5"/>
<use href="#mg" x="293.1" y="672.8"/>
<use href="#mg" x="323.8" y="678.0"/>
<use href="#mg" x="334.7" y="675.8"/>
<use href="#mg" x="319.4" y="686.4"/>
<use href="#mg" x="296.1" y="682.3"/>
<use href="#mg" x="309.2" y="699.9"/>
<use href="#mg" x="338.4" y="692.6"/>
<use href="#mg" x="294.6" y="711.5"/>
<use href="#mg" x="311.4" y="711.8"/>
<use href="#mg" x="297.5" y="698.4"/>
<text x="110.90" y="486.90" font-size="15.70" text-anchor="end" textLength="95.0" lengthAdjust="spacingAndGlyphs" fill="#222">NOK 200,000</text>
<text x="110.90" y="569.04" font-size="15.70" text-anchor="end" textLength="95.0" lengthAdjust="spacingAndGlyphs" fill="#222">NOK 150,000</text>
<text x="110.90" y="651.18" font-size="15.70" text-anchor="end" textLength="95.0" lengthAdjust="spacingAndGlyphs" fill="#222">NOK 100,000</text>
<text x="110.90" y="733.32" font-size="15.70" text-anchor="end" textLength="86.1" lengthAdjust="spacingAndGlyphs" fill="#222">NOK 50,000</text>
<text x="110.90" y="815.46" font-size="15.70" text-anchor="end" textLength="41.1" lengthAdjust="spacingAndGlyphs" fill="#222">NOK -</text>
<text x="110.90" y="897.60" font-size="15.70" text-anchor="end" textLength="92.1" lengthAdjust="spacingAndGlyphs" fill="#222">-NOK 50,000</text>
<text x="33.90" y="839.00" font-size="15.70" text-anchor="middle" fill="#222">-1</text>
<text x="131.30" y="839.00" font-size="15.70" text-anchor="middle" fill="#222">0</text>
<text x="228.70" y="839.00" font-size="15.70" text-anchor="middle" fill="#222">1</text>
<text x="326.10" y="839.00" font-size="15.70" text-anchor="middle" fill="#222">2</text>
<text x="423.50" y="839.00" font-size="15.70" text-anchor="middle" fill="#222">3</text>
<clipPath id="pc"><rect x="33.90" y="482.00" width="389.60" height="410.70"/></clipPath>
<line x1="110.05" y1="909.13" x2="205.68" y2="465.57" stroke="#000" stroke-width="8.2" clip-path="url(#pc)"/>
<text x="158.00" y="913.10" font-size="16.40" font-weight="bold" textLength="142.5" lengthAdjust="spacingAndGlyphs" fill="#222">Incremental QALYS</text>
<g transform="translate(15.7,751.9) rotate(-90)"><text x="0.00" y="0.00" font-size="17.20" font-weight="bold" textLength="128.9" lengthAdjust="spacingAndGlyphs" fill="#222">Incremental costs</text></g>
<text x="624.00" y="512.90" font-size="20.30" font-weight="bold" fill="#222">B</text>
<use href="#mb" x="482.3" y="636.4"/><use href="#mg" x="482.3" y="669.9"/>
<line x1="464.5" y1="703.7" x2="501.5" y2="703.7" stroke="#000" stroke-width="6.6" stroke-linecap="round"/>
<text x="506.20" y="642.80" font-size="16.20" textLength="48.0" lengthAdjust="spacingAndGlyphs" fill="#222">Nissen</text>
<text x="506.20" y="676.20" font-size="16.20" textLength="158.3" lengthAdjust="spacingAndGlyphs" fill="#222">Medical Management</text>
<text x="506.50" y="709.40" font-size="16.20" textLength="167.4" lengthAdjust="spacingAndGlyphs" fill="#222">Threshold NOK 275000</text>
</svg>
</body></html>
